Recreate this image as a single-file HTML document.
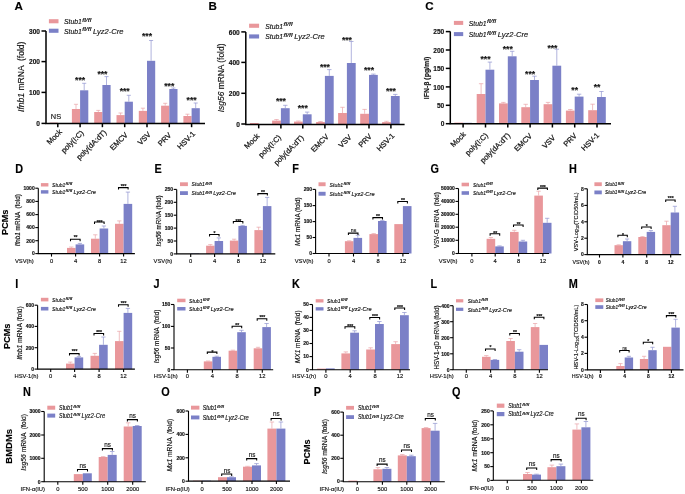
<!DOCTYPE html>
<html><head><meta charset="utf-8"><style>
html,body{margin:0;padding:0;background:#fff;}
svg{display:block;filter:blur(0.3px);}
text{font-family:"Liberation Sans", sans-serif;stroke:#111;stroke-width:0.15px;}
.rl{stroke:#222;stroke-width:0.25px;}
</style></head><body>
<svg width="685" height="494" viewBox="0 0 685 494">
<rect width="685" height="494" fill="#fff"/>
<rect x="49.60" y="122.60" width="8.20" height="0.80" fill="#E9979B"/>
<rect x="71.90" y="109.00" width="8.20" height="14.40" fill="#E9979B"/>
<line x1="76.00" y1="104.30" x2="76.00" y2="109.00" stroke="#EAA3A7" stroke-width="0.7"/>
<line x1="73.95" y1="104.30" x2="78.05" y2="104.30" stroke="#EAA3A7" stroke-width="0.7"/>
<rect x="80.10" y="90.30" width="8.20" height="33.10" fill="#7B80C7"/>
<line x1="84.20" y1="83.30" x2="84.20" y2="90.30" stroke="#8F93D0" stroke-width="0.7"/>
<line x1="82.15" y1="83.30" x2="86.25" y2="83.30" stroke="#8F93D0" stroke-width="0.7"/>
<rect x="94.20" y="112.00" width="8.20" height="11.40" fill="#E9979B"/>
<line x1="98.30" y1="110.40" x2="98.30" y2="112.00" stroke="#EAA3A7" stroke-width="0.7"/>
<line x1="96.25" y1="110.40" x2="100.35" y2="110.40" stroke="#EAA3A7" stroke-width="0.7"/>
<rect x="102.40" y="85.00" width="8.20" height="38.40" fill="#7B80C7"/>
<line x1="106.50" y1="76.60" x2="106.50" y2="85.00" stroke="#8F93D0" stroke-width="0.7"/>
<line x1="104.45" y1="76.60" x2="108.55" y2="76.60" stroke="#8F93D0" stroke-width="0.7"/>
<rect x="116.50" y="115.10" width="8.20" height="8.30" fill="#E9979B"/>
<line x1="120.60" y1="113.00" x2="120.60" y2="115.10" stroke="#EAA3A7" stroke-width="0.7"/>
<line x1="118.55" y1="113.00" x2="122.65" y2="113.00" stroke="#EAA3A7" stroke-width="0.7"/>
<rect x="124.70" y="101.70" width="8.20" height="21.70" fill="#7B80C7"/>
<line x1="128.80" y1="95.30" x2="128.80" y2="101.70" stroke="#8F93D0" stroke-width="0.7"/>
<line x1="126.75" y1="95.30" x2="130.85" y2="95.30" stroke="#8F93D0" stroke-width="0.7"/>
<rect x="138.80" y="110.90" width="8.20" height="12.50" fill="#E9979B"/>
<line x1="142.90" y1="108.20" x2="142.90" y2="110.90" stroke="#EAA3A7" stroke-width="0.7"/>
<line x1="140.85" y1="108.20" x2="144.95" y2="108.20" stroke="#EAA3A7" stroke-width="0.7"/>
<rect x="147.00" y="60.80" width="8.20" height="62.60" fill="#7B80C7"/>
<line x1="151.10" y1="40.50" x2="151.10" y2="60.80" stroke="#8F93D0" stroke-width="0.7"/>
<line x1="149.05" y1="40.50" x2="153.15" y2="40.50" stroke="#8F93D0" stroke-width="0.7"/>
<rect x="161.10" y="105.70" width="8.20" height="17.70" fill="#E9979B"/>
<line x1="165.20" y1="103.30" x2="165.20" y2="105.70" stroke="#EAA3A7" stroke-width="0.7"/>
<line x1="163.15" y1="103.30" x2="167.25" y2="103.30" stroke="#EAA3A7" stroke-width="0.7"/>
<rect x="169.30" y="89.00" width="8.20" height="34.40" fill="#7B80C7"/>
<line x1="173.40" y1="88.00" x2="173.40" y2="89.00" stroke="#8F93D0" stroke-width="0.7"/>
<line x1="171.35" y1="88.00" x2="175.45" y2="88.00" stroke="#8F93D0" stroke-width="0.7"/>
<rect x="183.40" y="116.00" width="8.20" height="7.40" fill="#E9979B"/>
<line x1="187.50" y1="114.20" x2="187.50" y2="116.00" stroke="#EAA3A7" stroke-width="0.7"/>
<line x1="185.45" y1="114.20" x2="189.55" y2="114.20" stroke="#EAA3A7" stroke-width="0.7"/>
<rect x="191.60" y="108.20" width="8.20" height="15.20" fill="#7B80C7"/>
<line x1="195.70" y1="103.00" x2="195.70" y2="108.20" stroke="#8F93D0" stroke-width="0.7"/>
<line x1="193.65" y1="103.00" x2="197.75" y2="103.00" stroke="#8F93D0" stroke-width="0.7"/>
<path d="M46.00,31.00 V123.40 H205.00" fill="none" stroke="#000" stroke-width="1.5"/>
<line x1="41.50" y1="123.40" x2="46.00" y2="123.40" stroke="#000" stroke-width="1.5"/>
<text x="40.00" y="126.17" font-size="6.6" text-anchor="end" font-weight="bold" font-style="normal" fill="#111" >0</text>
<line x1="41.50" y1="92.40" x2="46.00" y2="92.40" stroke="#000" stroke-width="1.5"/>
<text x="40.00" y="95.17" font-size="6.6" text-anchor="end" font-weight="bold" font-style="normal" fill="#111" >100</text>
<line x1="41.50" y1="61.60" x2="46.00" y2="61.60" stroke="#000" stroke-width="1.5"/>
<text x="40.00" y="64.37" font-size="6.6" text-anchor="end" font-weight="bold" font-style="normal" fill="#111" >200</text>
<line x1="41.50" y1="31.00" x2="46.00" y2="31.00" stroke="#000" stroke-width="1.5"/>
<text x="40.00" y="33.77" font-size="6.6" text-anchor="end" font-weight="bold" font-style="normal" fill="#111" >300</text>
<line x1="57.80" y1="123.40" x2="57.80" y2="127.20" stroke="#000" stroke-width="1.5"/>
<line x1="80.10" y1="123.40" x2="80.10" y2="127.20" stroke="#000" stroke-width="1.5"/>
<line x1="102.40" y1="123.40" x2="102.40" y2="127.20" stroke="#000" stroke-width="1.5"/>
<line x1="124.70" y1="123.40" x2="124.70" y2="127.20" stroke="#000" stroke-width="1.5"/>
<line x1="147.00" y1="123.40" x2="147.00" y2="127.20" stroke="#000" stroke-width="1.5"/>
<line x1="169.30" y1="123.40" x2="169.30" y2="127.20" stroke="#000" stroke-width="1.5"/>
<line x1="191.60" y1="123.40" x2="191.60" y2="127.20" stroke="#000" stroke-width="1.5"/>
<text transform="translate(62.40,132.40) rotate(-45)" font-size="7.5" text-anchor="end" fill="#111" class="rl">Mock</text>
<text transform="translate(84.20,133.40) rotate(-45)" font-size="7.5" text-anchor="end" fill="#111" class="rl">poly(I:C)</text>
<text transform="translate(107.00,132.90) rotate(-45)" font-size="7.5" text-anchor="end" fill="#111" class="rl">poly(dA:dT)</text>
<text transform="translate(128.30,135.40) rotate(-45)" font-size="7.5" text-anchor="end" fill="#111" class="rl">EMCV</text>
<text transform="translate(151.30,134.90) rotate(-45)" font-size="7.5" text-anchor="end" fill="#111" class="rl">VSV</text>
<text transform="translate(171.90,135.60) rotate(-45)" font-size="7.5" text-anchor="end" fill="#111" class="rl">PRV</text>
<text transform="translate(195.70,134.40) rotate(-45)" font-size="7.5" text-anchor="end" fill="#111" class="rl">HSV-1</text>
<text x="56.00" y="119.12" font-size="7.4" text-anchor="middle" font-weight="normal" font-style="normal" fill="#111" >NS</text>
<text x="80.10" y="82.87" font-size="8.6" text-anchor="middle" font-weight="bold" font-style="normal" fill="#111" stroke="#000" stroke-width="0">***</text>
<text x="102.40" y="76.77" font-size="8.6" text-anchor="middle" font-weight="bold" font-style="normal" fill="#111" stroke="#000" stroke-width="0">***</text>
<text x="124.70" y="94.17" font-size="8.6" text-anchor="middle" font-weight="bold" font-style="normal" fill="#111" stroke="#000" stroke-width="0">***</text>
<text x="147.00" y="39.47" font-size="8.6" text-anchor="middle" font-weight="bold" font-style="normal" fill="#111" stroke="#000" stroke-width="0">***</text>
<text x="169.30" y="89.07" font-size="8.6" text-anchor="middle" font-weight="bold" font-style="normal" fill="#111" stroke="#000" stroke-width="0">***</text>
<text x="191.60" y="103.47" font-size="8.6" text-anchor="middle" font-weight="bold" font-style="normal" fill="#111" stroke="#000" stroke-width="0">***</text>
<rect x="48.90" y="19.20" width="9.60" height="4.10" fill="#E9979B"/>
<rect x="48.90" y="28.70" width="9.60" height="4.10" fill="#7B80C7"/>
<text x="64.00" y="24.06" font-size="7.80" font-style="italic" fill="#111" textLength="17.94" lengthAdjust="spacingAndGlyphs">Stub1</text>
<text x="82.25" y="21.72" font-size="5.15" font-style="italic" fill="#111" textLength="9.05" lengthAdjust="spacingAndGlyphs">fl/fl</text>
<text x="64.00" y="33.56" font-size="7.80" font-style="italic" fill="#111" textLength="17.94" lengthAdjust="spacingAndGlyphs">Stub1</text>
<text x="82.25" y="31.22" font-size="5.15" font-style="italic" fill="#111" textLength="9.05" lengthAdjust="spacingAndGlyphs">fl/fl</text>
<text x="93.02" y="33.56" font-size="7.80" font-style="italic" fill="#111" textLength="30.42" lengthAdjust="spacingAndGlyphs">Lyz2-Cre</text>
<text transform="translate(23.83,76.80) rotate(-90)" font-size="8.4" text-anchor="middle" font-weight="normal" fill="#111" xml:space="preserve" textLength="70.40" lengthAdjust="spacingAndGlyphs"><tspan font-style="italic">Ifnb1</tspan><tspan font-style="normal"> mRNA  (fold)</tspan></text>
<text transform="translate(14.60,10.00) scale(1.0,1)" font-size="11.6" font-weight="bold" fill="#000">A</text>
<rect x="249.90" y="123.00" width="8.80" height="1.40" fill="#E9979B"/>
<rect x="272.10" y="120.60" width="8.80" height="3.80" fill="#E9979B"/>
<line x1="276.50" y1="119.50" x2="276.50" y2="120.60" stroke="#EAA3A7" stroke-width="0.7"/>
<line x1="274.30" y1="119.50" x2="278.70" y2="119.50" stroke="#EAA3A7" stroke-width="0.7"/>
<rect x="280.90" y="108.20" width="8.80" height="16.20" fill="#7B80C7"/>
<line x1="285.30" y1="105.30" x2="285.30" y2="108.20" stroke="#8F93D0" stroke-width="0.7"/>
<line x1="283.10" y1="105.30" x2="287.50" y2="105.30" stroke="#8F93D0" stroke-width="0.7"/>
<rect x="294.00" y="121.60" width="8.80" height="2.80" fill="#E9979B"/>
<line x1="298.40" y1="121.00" x2="298.40" y2="121.60" stroke="#EAA3A7" stroke-width="0.7"/>
<line x1="296.20" y1="121.00" x2="300.60" y2="121.00" stroke="#EAA3A7" stroke-width="0.7"/>
<rect x="302.80" y="114.30" width="8.80" height="10.10" fill="#7B80C7"/>
<line x1="307.20" y1="112.10" x2="307.20" y2="114.30" stroke="#8F93D0" stroke-width="0.7"/>
<line x1="305.00" y1="112.10" x2="309.40" y2="112.10" stroke="#8F93D0" stroke-width="0.7"/>
<rect x="316.10" y="122.00" width="8.80" height="2.40" fill="#E9979B"/>
<line x1="320.50" y1="121.50" x2="320.50" y2="122.00" stroke="#EAA3A7" stroke-width="0.7"/>
<line x1="318.30" y1="121.50" x2="322.70" y2="121.50" stroke="#EAA3A7" stroke-width="0.7"/>
<rect x="324.90" y="75.90" width="8.80" height="48.50" fill="#7B80C7"/>
<line x1="329.30" y1="69.60" x2="329.30" y2="75.90" stroke="#8F93D0" stroke-width="0.7"/>
<line x1="327.10" y1="69.60" x2="331.50" y2="69.60" stroke="#8F93D0" stroke-width="0.7"/>
<rect x="338.10" y="113.00" width="8.80" height="11.40" fill="#E9979B"/>
<line x1="342.50" y1="107.30" x2="342.50" y2="113.00" stroke="#EAA3A7" stroke-width="0.7"/>
<line x1="340.30" y1="107.30" x2="344.70" y2="107.30" stroke="#EAA3A7" stroke-width="0.7"/>
<rect x="346.90" y="63.00" width="8.80" height="61.40" fill="#7B80C7"/>
<line x1="351.30" y1="41.50" x2="351.30" y2="63.00" stroke="#8F93D0" stroke-width="0.7"/>
<line x1="349.10" y1="41.50" x2="353.50" y2="41.50" stroke="#8F93D0" stroke-width="0.7"/>
<rect x="360.20" y="113.80" width="8.80" height="10.60" fill="#E9979B"/>
<line x1="364.60" y1="109.40" x2="364.60" y2="113.80" stroke="#EAA3A7" stroke-width="0.7"/>
<line x1="362.40" y1="109.40" x2="366.80" y2="109.40" stroke="#EAA3A7" stroke-width="0.7"/>
<rect x="369.00" y="74.90" width="8.80" height="49.50" fill="#7B80C7"/>
<line x1="373.40" y1="74.10" x2="373.40" y2="74.90" stroke="#8F93D0" stroke-width="0.7"/>
<line x1="371.20" y1="74.10" x2="375.60" y2="74.10" stroke="#8F93D0" stroke-width="0.7"/>
<rect x="382.10" y="122.10" width="8.80" height="2.30" fill="#E9979B"/>
<line x1="386.50" y1="121.30" x2="386.50" y2="122.10" stroke="#EAA3A7" stroke-width="0.7"/>
<line x1="384.30" y1="121.30" x2="388.70" y2="121.30" stroke="#EAA3A7" stroke-width="0.7"/>
<rect x="390.90" y="96.00" width="8.80" height="28.40" fill="#7B80C7"/>
<line x1="395.30" y1="94.40" x2="395.30" y2="96.00" stroke="#8F93D0" stroke-width="0.7"/>
<line x1="393.10" y1="94.40" x2="397.50" y2="94.40" stroke="#8F93D0" stroke-width="0.7"/>
<path d="M245.80,31.90 V124.40 H404.60" fill="none" stroke="#000" stroke-width="1.5"/>
<line x1="241.30" y1="124.00" x2="245.80" y2="124.00" stroke="#000" stroke-width="1.5"/>
<text x="239.80" y="126.77" font-size="6.6" text-anchor="end" font-weight="bold" font-style="normal" fill="#111" >0</text>
<line x1="241.30" y1="93.30" x2="245.80" y2="93.30" stroke="#000" stroke-width="1.5"/>
<text x="239.80" y="96.07" font-size="6.6" text-anchor="end" font-weight="bold" font-style="normal" fill="#111" >200</text>
<line x1="241.30" y1="62.40" x2="245.80" y2="62.40" stroke="#000" stroke-width="1.5"/>
<text x="239.80" y="65.17" font-size="6.6" text-anchor="end" font-weight="bold" font-style="normal" fill="#111" >400</text>
<line x1="241.30" y1="31.90" x2="245.80" y2="31.90" stroke="#000" stroke-width="1.5"/>
<text x="239.80" y="34.67" font-size="6.6" text-anchor="end" font-weight="bold" font-style="normal" fill="#111" >600</text>
<line x1="258.70" y1="124.40" x2="258.70" y2="128.40" stroke="#000" stroke-width="1.5"/>
<line x1="280.90" y1="124.40" x2="280.90" y2="128.40" stroke="#000" stroke-width="1.5"/>
<line x1="302.80" y1="124.40" x2="302.80" y2="128.40" stroke="#000" stroke-width="1.5"/>
<line x1="324.90" y1="124.40" x2="324.90" y2="128.40" stroke="#000" stroke-width="1.5"/>
<line x1="346.90" y1="124.40" x2="346.90" y2="128.40" stroke="#000" stroke-width="1.5"/>
<line x1="369.00" y1="124.40" x2="369.00" y2="128.40" stroke="#000" stroke-width="1.5"/>
<line x1="390.90" y1="124.40" x2="390.90" y2="128.40" stroke="#000" stroke-width="1.5"/>
<text transform="translate(260.00,136.70) rotate(-45)" font-size="7.5" text-anchor="end" fill="#111" class="rl">Mock</text>
<text transform="translate(281.60,137.90) rotate(-45)" font-size="7.5" text-anchor="end" fill="#111" class="rl">poly(I:C)</text>
<text transform="translate(304.30,138.30) rotate(-45)" font-size="7.5" text-anchor="end" fill="#111" class="rl">poly(dA:dT)</text>
<text transform="translate(329.20,137.20) rotate(-45)" font-size="7.5" text-anchor="end" fill="#111" class="rl">EMCV</text>
<text transform="translate(352.00,137.70) rotate(-45)" font-size="7.5" text-anchor="end" fill="#111" class="rl">VSV</text>
<text transform="translate(372.40,136.90) rotate(-45)" font-size="7.5" text-anchor="end" fill="#111" class="rl">PRV</text>
<text transform="translate(395.00,136.40) rotate(-45)" font-size="7.5" text-anchor="end" fill="#111" class="rl">HSV-1</text>
<text x="280.90" y="104.17" font-size="8.6" text-anchor="middle" font-weight="bold" font-style="normal" fill="#111" stroke="#000" stroke-width="0">***</text>
<text x="302.80" y="110.87" font-size="8.6" text-anchor="middle" font-weight="bold" font-style="normal" fill="#111" stroke="#000" stroke-width="0">***</text>
<text x="324.90" y="69.57" font-size="8.6" text-anchor="middle" font-weight="bold" font-style="normal" fill="#111" stroke="#000" stroke-width="0">***</text>
<text x="346.90" y="42.57" font-size="8.6" text-anchor="middle" font-weight="bold" font-style="normal" fill="#111" stroke="#000" stroke-width="0">***</text>
<text x="369.00" y="72.97" font-size="8.6" text-anchor="middle" font-weight="bold" font-style="normal" fill="#111" stroke="#000" stroke-width="0">***</text>
<text x="390.90" y="94.17" font-size="8.6" text-anchor="middle" font-weight="bold" font-style="normal" fill="#111" stroke="#000" stroke-width="0">***</text>
<rect x="249.10" y="23.70" width="10.00" height="4.10" fill="#E9979B"/>
<rect x="249.10" y="34.40" width="10.00" height="4.10" fill="#7B80C7"/>
<text x="265.20" y="28.56" font-size="7.80" font-style="italic" fill="#111" textLength="17.94" lengthAdjust="spacingAndGlyphs">Stub1</text>
<text x="283.45" y="26.22" font-size="5.15" font-style="italic" fill="#111" textLength="9.05" lengthAdjust="spacingAndGlyphs">fl/fl</text>
<text x="265.20" y="39.26" font-size="7.80" font-style="italic" fill="#111" textLength="17.94" lengthAdjust="spacingAndGlyphs">Stub1</text>
<text x="283.45" y="36.92" font-size="5.15" font-style="italic" fill="#111" textLength="9.05" lengthAdjust="spacingAndGlyphs">fl/fl</text>
<text x="294.22" y="39.26" font-size="7.80" font-style="italic" fill="#111" textLength="30.42" lengthAdjust="spacingAndGlyphs">Lyz2-Cre</text>
<text transform="translate(224.26,77.90) rotate(-90)" font-size="8.3" text-anchor="middle" font-weight="normal" fill="#111" xml:space="preserve" textLength="68.70" lengthAdjust="spacingAndGlyphs"><tspan font-style="italic">Isg56</tspan><tspan font-style="normal"> mRNA (fold)</tspan></text>
<text transform="translate(208.40,10.00) scale(1.0,1)" font-size="11.6" font-weight="bold" fill="#000">B</text>
<rect x="454.30" y="122.60" width="8.80" height="1.10" fill="#E9979B"/>
<rect x="463.10" y="122.80" width="8.80" height="0.90" fill="#7B80C7"/>
<rect x="476.70" y="94.00" width="8.80" height="29.70" fill="#E9979B"/>
<line x1="481.10" y1="83.70" x2="481.10" y2="94.00" stroke="#EAA3A7" stroke-width="0.7"/>
<line x1="478.90" y1="83.70" x2="483.30" y2="83.70" stroke="#EAA3A7" stroke-width="0.7"/>
<rect x="485.50" y="69.70" width="8.80" height="54.00" fill="#7B80C7"/>
<line x1="489.90" y1="62.10" x2="489.90" y2="69.70" stroke="#8F93D0" stroke-width="0.7"/>
<line x1="487.70" y1="62.10" x2="492.10" y2="62.10" stroke="#8F93D0" stroke-width="0.7"/>
<rect x="499.00" y="103.40" width="8.80" height="20.30" fill="#E9979B"/>
<line x1="503.40" y1="102.40" x2="503.40" y2="103.40" stroke="#EAA3A7" stroke-width="0.7"/>
<line x1="501.20" y1="102.40" x2="505.60" y2="102.40" stroke="#EAA3A7" stroke-width="0.7"/>
<rect x="507.80" y="56.30" width="8.80" height="67.40" fill="#7B80C7"/>
<line x1="512.20" y1="51.30" x2="512.20" y2="56.30" stroke="#8F93D0" stroke-width="0.7"/>
<line x1="510.00" y1="51.30" x2="514.40" y2="51.30" stroke="#8F93D0" stroke-width="0.7"/>
<rect x="521.30" y="107.20" width="8.80" height="16.50" fill="#E9979B"/>
<line x1="525.70" y1="104.30" x2="525.70" y2="107.20" stroke="#EAA3A7" stroke-width="0.7"/>
<line x1="523.50" y1="104.30" x2="527.90" y2="104.30" stroke="#EAA3A7" stroke-width="0.7"/>
<rect x="530.10" y="80.00" width="8.80" height="43.70" fill="#7B80C7"/>
<line x1="534.50" y1="76.20" x2="534.50" y2="80.00" stroke="#8F93D0" stroke-width="0.7"/>
<line x1="532.30" y1="76.20" x2="536.70" y2="76.20" stroke="#8F93D0" stroke-width="0.7"/>
<rect x="543.60" y="104.20" width="8.80" height="19.50" fill="#E9979B"/>
<line x1="548.00" y1="102.40" x2="548.00" y2="104.20" stroke="#EAA3A7" stroke-width="0.7"/>
<line x1="545.80" y1="102.40" x2="550.20" y2="102.40" stroke="#EAA3A7" stroke-width="0.7"/>
<rect x="552.40" y="65.70" width="8.80" height="58.00" fill="#7B80C7"/>
<line x1="556.80" y1="49.20" x2="556.80" y2="65.70" stroke="#8F93D0" stroke-width="0.7"/>
<line x1="554.60" y1="49.20" x2="559.00" y2="49.20" stroke="#8F93D0" stroke-width="0.7"/>
<rect x="565.90" y="110.60" width="8.80" height="13.10" fill="#E9979B"/>
<line x1="570.30" y1="109.50" x2="570.30" y2="110.60" stroke="#EAA3A7" stroke-width="0.7"/>
<line x1="568.10" y1="109.50" x2="572.50" y2="109.50" stroke="#EAA3A7" stroke-width="0.7"/>
<rect x="574.70" y="96.60" width="8.80" height="27.10" fill="#7B80C7"/>
<line x1="579.10" y1="94.20" x2="579.10" y2="96.60" stroke="#8F93D0" stroke-width="0.7"/>
<line x1="576.90" y1="94.20" x2="581.30" y2="94.20" stroke="#8F93D0" stroke-width="0.7"/>
<rect x="588.20" y="110.20" width="8.80" height="13.50" fill="#E9979B"/>
<line x1="592.60" y1="104.20" x2="592.60" y2="110.20" stroke="#EAA3A7" stroke-width="0.7"/>
<line x1="590.40" y1="104.20" x2="594.80" y2="104.20" stroke="#EAA3A7" stroke-width="0.7"/>
<rect x="597.00" y="97.00" width="8.80" height="26.70" fill="#7B80C7"/>
<line x1="601.40" y1="91.50" x2="601.40" y2="97.00" stroke="#8F93D0" stroke-width="0.7"/>
<line x1="599.20" y1="91.50" x2="603.60" y2="91.50" stroke="#8F93D0" stroke-width="0.7"/>
<path d="M450.30,31.60 V123.70 H611.00" fill="none" stroke="#000" stroke-width="1.5"/>
<line x1="445.80" y1="123.70" x2="450.30" y2="123.70" stroke="#000" stroke-width="1.5"/>
<text x="444.30" y="126.47" font-size="6.6" text-anchor="end" font-weight="bold" font-style="normal" fill="#111" >0</text>
<line x1="445.80" y1="105.30" x2="450.30" y2="105.30" stroke="#000" stroke-width="1.5"/>
<text x="444.30" y="108.07" font-size="6.6" text-anchor="end" font-weight="bold" font-style="normal" fill="#111" >50</text>
<line x1="445.80" y1="86.90" x2="450.30" y2="86.90" stroke="#000" stroke-width="1.5"/>
<text x="444.30" y="89.67" font-size="6.6" text-anchor="end" font-weight="bold" font-style="normal" fill="#111" >100</text>
<line x1="445.80" y1="68.40" x2="450.30" y2="68.40" stroke="#000" stroke-width="1.5"/>
<text x="444.30" y="71.17" font-size="6.6" text-anchor="end" font-weight="bold" font-style="normal" fill="#111" >150</text>
<line x1="445.80" y1="50.00" x2="450.30" y2="50.00" stroke="#000" stroke-width="1.5"/>
<text x="444.30" y="52.77" font-size="6.6" text-anchor="end" font-weight="bold" font-style="normal" fill="#111" >200</text>
<line x1="445.80" y1="31.60" x2="450.30" y2="31.60" stroke="#000" stroke-width="1.5"/>
<text x="444.30" y="34.37" font-size="6.6" text-anchor="end" font-weight="bold" font-style="normal" fill="#111" >250</text>
<line x1="463.10" y1="123.70" x2="463.10" y2="127.50" stroke="#000" stroke-width="1.5"/>
<line x1="485.50" y1="123.70" x2="485.50" y2="127.50" stroke="#000" stroke-width="1.5"/>
<line x1="507.80" y1="123.70" x2="507.80" y2="127.50" stroke="#000" stroke-width="1.5"/>
<line x1="530.10" y1="123.70" x2="530.10" y2="127.50" stroke="#000" stroke-width="1.5"/>
<line x1="552.40" y1="123.70" x2="552.40" y2="127.50" stroke="#000" stroke-width="1.5"/>
<line x1="574.70" y1="123.70" x2="574.70" y2="127.50" stroke="#000" stroke-width="1.5"/>
<line x1="597.00" y1="123.70" x2="597.00" y2="127.50" stroke="#000" stroke-width="1.5"/>
<text transform="translate(466.20,134.90) rotate(-45)" font-size="7.5" text-anchor="end" fill="#111" class="rl">Mock</text>
<text transform="translate(488.40,135.90) rotate(-45)" font-size="7.5" text-anchor="end" fill="#111" class="rl">poly(I:C)</text>
<text transform="translate(510.70,136.10) rotate(-45)" font-size="7.5" text-anchor="end" fill="#111" class="rl">poly(dA:dT)</text>
<text transform="translate(532.50,136.40) rotate(-45)" font-size="7.5" text-anchor="end" fill="#111" class="rl">EMCV</text>
<text transform="translate(555.80,138.30) rotate(-45)" font-size="7.5" text-anchor="end" fill="#111" class="rl">VSV</text>
<text transform="translate(577.40,136.30) rotate(-45)" font-size="7.5" text-anchor="end" fill="#111" class="rl">PRV</text>
<text transform="translate(599.70,135.90) rotate(-45)" font-size="7.5" text-anchor="end" fill="#111" class="rl">HSV-1</text>
<text x="485.50" y="61.87" font-size="8.6" text-anchor="middle" font-weight="bold" font-style="normal" fill="#111" stroke="#000" stroke-width="0">***</text>
<text x="507.80" y="51.87" font-size="8.6" text-anchor="middle" font-weight="bold" font-style="normal" fill="#111" stroke="#000" stroke-width="0">***</text>
<text x="530.10" y="76.77" font-size="8.6" text-anchor="middle" font-weight="bold" font-style="normal" fill="#111" stroke="#000" stroke-width="0">***</text>
<text x="552.40" y="50.77" font-size="8.6" text-anchor="middle" font-weight="bold" font-style="normal" fill="#111" stroke="#000" stroke-width="0">***</text>
<text x="574.70" y="93.47" font-size="8.6" text-anchor="middle" font-weight="bold" font-style="normal" fill="#111" stroke="#000" stroke-width="0">**</text>
<text x="597.00" y="90.47" font-size="8.6" text-anchor="middle" font-weight="bold" font-style="normal" fill="#111" stroke="#000" stroke-width="0">**</text>
<rect x="453.90" y="20.90" width="9.30" height="4.00" fill="#E9979B"/>
<rect x="453.90" y="32.10" width="9.30" height="4.00" fill="#7B80C7"/>
<text x="468.70" y="25.71" font-size="7.80" font-style="italic" fill="#111" textLength="17.94" lengthAdjust="spacingAndGlyphs">Stub1</text>
<text x="486.95" y="23.37" font-size="5.15" font-style="italic" fill="#111" textLength="9.05" lengthAdjust="spacingAndGlyphs">fl/fl</text>
<text x="468.70" y="36.91" font-size="7.80" font-style="italic" fill="#111" textLength="17.94" lengthAdjust="spacingAndGlyphs">Stub1</text>
<text x="486.95" y="34.57" font-size="5.15" font-style="italic" fill="#111" textLength="9.05" lengthAdjust="spacingAndGlyphs">fl/fl</text>
<text x="497.72" y="36.91" font-size="7.80" font-style="italic" fill="#111" textLength="30.42" lengthAdjust="spacingAndGlyphs">Lyz2-Cre</text>
<text transform="translate(428.62,77.90) rotate(-90)" font-size="7.0" text-anchor="middle" font-weight="bold" fill="#111" xml:space="preserve" textLength="42.60" lengthAdjust="spacingAndGlyphs"><tspan font-style="normal">IFN-β (pg/ml)</tspan></text>
<text transform="translate(425.20,10.00) scale(1.0,1)" font-size="11.6" font-weight="bold" fill="#000">C</text>
<rect x="51.50" y="253.10" width="8.60" height="0.50" fill="#7B80C7"/>
<rect x="67.00" y="247.90" width="8.60" height="5.70" fill="#E9979B"/>
<line x1="71.30" y1="247.00" x2="71.30" y2="247.90" stroke="#EAA3A7" stroke-width="0.7"/>
<line x1="69.15" y1="247.00" x2="73.45" y2="247.00" stroke="#EAA3A7" stroke-width="0.7"/>
<rect x="75.60" y="244.40" width="8.60" height="9.20" fill="#7B80C7"/>
<line x1="79.90" y1="243.40" x2="79.90" y2="244.40" stroke="#8F93D0" stroke-width="0.7"/>
<line x1="77.75" y1="243.40" x2="82.05" y2="243.40" stroke="#8F93D0" stroke-width="0.7"/>
<rect x="91.00" y="238.70" width="8.60" height="14.90" fill="#E9979B"/>
<line x1="95.30" y1="234.80" x2="95.30" y2="238.70" stroke="#EAA3A7" stroke-width="0.7"/>
<line x1="93.15" y1="234.80" x2="97.45" y2="234.80" stroke="#EAA3A7" stroke-width="0.7"/>
<rect x="99.60" y="228.50" width="8.60" height="25.10" fill="#7B80C7"/>
<line x1="103.90" y1="226.00" x2="103.90" y2="228.50" stroke="#8F93D0" stroke-width="0.7"/>
<line x1="101.75" y1="226.00" x2="106.05" y2="226.00" stroke="#8F93D0" stroke-width="0.7"/>
<rect x="115.00" y="223.80" width="8.60" height="29.80" fill="#E9979B"/>
<line x1="119.30" y1="220.90" x2="119.30" y2="223.80" stroke="#EAA3A7" stroke-width="0.7"/>
<line x1="117.15" y1="220.90" x2="121.45" y2="220.90" stroke="#EAA3A7" stroke-width="0.7"/>
<rect x="123.60" y="203.90" width="8.60" height="49.70" fill="#7B80C7"/>
<line x1="127.90" y1="192.10" x2="127.90" y2="203.90" stroke="#8F93D0" stroke-width="0.7"/>
<line x1="125.75" y1="192.10" x2="130.05" y2="192.10" stroke="#8F93D0" stroke-width="0.7"/>
<path d="M38.30,188.20 V253.60 H134.90" fill="none" stroke="#000" stroke-width="1.1"/>
<line x1="35.30" y1="253.60" x2="38.30" y2="253.60" stroke="#000" stroke-width="1.1"/>
<text x="34.70" y="255.40" font-size="5.0" text-anchor="end" font-weight="bold" font-style="normal" fill="#111" >0</text>
<line x1="35.30" y1="240.70" x2="38.30" y2="240.70" stroke="#000" stroke-width="1.1"/>
<text x="34.70" y="242.50" font-size="5.0" text-anchor="end" font-weight="bold" font-style="normal" fill="#111" >200</text>
<line x1="35.30" y1="227.60" x2="38.30" y2="227.60" stroke="#000" stroke-width="1.1"/>
<text x="34.70" y="229.40" font-size="5.0" text-anchor="end" font-weight="bold" font-style="normal" fill="#111" >400</text>
<line x1="35.30" y1="214.60" x2="38.30" y2="214.60" stroke="#000" stroke-width="1.1"/>
<text x="34.70" y="216.40" font-size="5.0" text-anchor="end" font-weight="bold" font-style="normal" fill="#111" >600</text>
<line x1="35.30" y1="201.40" x2="38.30" y2="201.40" stroke="#000" stroke-width="1.1"/>
<text x="34.70" y="203.20" font-size="5.0" text-anchor="end" font-weight="bold" font-style="normal" fill="#111" >800</text>
<line x1="35.30" y1="188.20" x2="38.30" y2="188.20" stroke="#000" stroke-width="1.1"/>
<text x="34.70" y="190.00" font-size="5.0" text-anchor="end" font-weight="bold" font-style="normal" fill="#111" >1000</text>
<line x1="51.50" y1="253.60" x2="51.50" y2="256.60" stroke="#000" stroke-width="1.1"/>
<line x1="75.60" y1="253.60" x2="75.60" y2="256.60" stroke="#000" stroke-width="1.1"/>
<line x1="99.60" y1="253.60" x2="99.60" y2="256.60" stroke="#000" stroke-width="1.1"/>
<line x1="123.60" y1="253.60" x2="123.60" y2="256.60" stroke="#000" stroke-width="1.1"/>
<text x="51.50" y="263.00" font-size="5.8" text-anchor="middle" font-weight="normal" font-style="normal" fill="#111" >0</text>
<text x="75.60" y="263.00" font-size="5.8" text-anchor="middle" font-weight="normal" font-style="normal" fill="#111" >4</text>
<text x="99.60" y="263.00" font-size="5.8" text-anchor="middle" font-weight="normal" font-style="normal" fill="#111" >8</text>
<text x="123.60" y="263.00" font-size="5.8" text-anchor="middle" font-weight="normal" font-style="normal" fill="#111" >12</text>
<text x="33.60" y="263.00" font-size="5.8" text-anchor="end" font-weight="normal" font-style="normal" fill="#111" >VSV(h)</text>
<path d="M70.50,241.20 V239.20 H80.10 V241.20" fill="none" stroke="#000" stroke-width="1.05"/>
<text x="75.60" y="239.20" font-size="5.0" text-anchor="middle" font-weight="bold" font-style="normal" fill="#111" stroke="#000" stroke-width="0.2">**</text>
<path d="M94.50,224.00 V222.00 H104.10 V224.00" fill="none" stroke="#000" stroke-width="1.05"/>
<text x="99.60" y="223.80" font-size="5.0" text-anchor="middle" font-weight="bold" font-style="normal" fill="#111" stroke="#000" stroke-width="0.2">***</text>
<path d="M118.50,189.60 V187.60 H128.10 V189.60" fill="none" stroke="#000" stroke-width="1.05"/>
<text x="123.60" y="188.10" font-size="5.0" text-anchor="middle" font-weight="bold" font-style="normal" fill="#111" stroke="#000" stroke-width="0.2">***</text>
<rect x="40.90" y="183.10" width="7.50" height="3.40" fill="#E9979B"/>
<rect x="40.90" y="190.20" width="7.50" height="3.40" fill="#7B80C7"/>
<text x="52.10" y="187.00" font-size="6.11" font-style="italic" fill="#111" textLength="13.25" lengthAdjust="spacingAndGlyphs">Stub1</text>
<text x="65.58" y="185.27" font-size="4.03" font-style="italic" fill="#111" textLength="6.68" lengthAdjust="spacingAndGlyphs">fl/fl</text>
<text x="52.10" y="194.10" font-size="6.11" font-style="italic" fill="#111" textLength="13.25" lengthAdjust="spacingAndGlyphs">Stub1</text>
<text x="65.58" y="192.37" font-size="4.03" font-style="italic" fill="#111" textLength="6.68" lengthAdjust="spacingAndGlyphs">fl/fl</text>
<text x="73.53" y="194.10" font-size="6.11" font-style="italic" fill="#111" textLength="22.46" lengthAdjust="spacingAndGlyphs">Lyz2-Cre</text>
<text transform="translate(20.04,220.20) rotate(-90)" font-size="6.3" text-anchor="middle" font-weight="normal" fill="#111" xml:space="preserve" textLength="52.10" lengthAdjust="spacingAndGlyphs"><tspan font-style="italic">Ifnb1</tspan><tspan font-style="normal"> mRNA  (fold)</tspan></text>
<text transform="translate(15.30,173.00) scale(0.87,1)" font-size="12.5" font-weight="bold" fill="#000">D</text>
<rect x="190.70" y="253.40" width="8.50" height="0.50" fill="#7B80C7"/>
<rect x="206.10" y="245.70" width="8.50" height="8.20" fill="#E9979B"/>
<line x1="210.35" y1="244.60" x2="210.35" y2="245.70" stroke="#EAA3A7" stroke-width="0.7"/>
<line x1="208.22" y1="244.60" x2="212.47" y2="244.60" stroke="#EAA3A7" stroke-width="0.7"/>
<rect x="214.60" y="241.00" width="8.50" height="12.90" fill="#7B80C7"/>
<line x1="218.85" y1="237.90" x2="218.85" y2="241.00" stroke="#8F93D0" stroke-width="0.7"/>
<line x1="216.72" y1="237.90" x2="220.97" y2="237.90" stroke="#8F93D0" stroke-width="0.7"/>
<rect x="229.90" y="240.60" width="8.50" height="13.30" fill="#E9979B"/>
<line x1="234.15" y1="239.20" x2="234.15" y2="240.60" stroke="#EAA3A7" stroke-width="0.7"/>
<line x1="232.03" y1="239.20" x2="236.28" y2="239.20" stroke="#EAA3A7" stroke-width="0.7"/>
<rect x="238.40" y="225.90" width="8.50" height="28.00" fill="#7B80C7"/>
<line x1="242.65" y1="225.40" x2="242.65" y2="225.90" stroke="#8F93D0" stroke-width="0.7"/>
<line x1="240.53" y1="225.40" x2="244.78" y2="225.40" stroke="#8F93D0" stroke-width="0.7"/>
<rect x="254.40" y="230.10" width="8.50" height="23.80" fill="#E9979B"/>
<line x1="258.65" y1="227.20" x2="258.65" y2="230.10" stroke="#EAA3A7" stroke-width="0.7"/>
<line x1="256.52" y1="227.20" x2="260.77" y2="227.20" stroke="#EAA3A7" stroke-width="0.7"/>
<rect x="262.90" y="206.10" width="8.50" height="47.80" fill="#7B80C7"/>
<line x1="267.15" y1="197.40" x2="267.15" y2="206.10" stroke="#8F93D0" stroke-width="0.7"/>
<line x1="265.02" y1="197.40" x2="269.27" y2="197.40" stroke="#8F93D0" stroke-width="0.7"/>
<path d="M176.70,189.40 V253.90 H275.30" fill="none" stroke="#000" stroke-width="1.1"/>
<line x1="173.70" y1="253.90" x2="176.70" y2="253.90" stroke="#000" stroke-width="1.1"/>
<text x="173.10" y="255.70" font-size="5.0" text-anchor="end" font-weight="bold" font-style="normal" fill="#111" >0</text>
<line x1="173.70" y1="241.00" x2="176.70" y2="241.00" stroke="#000" stroke-width="1.1"/>
<text x="173.10" y="242.80" font-size="5.0" text-anchor="end" font-weight="bold" font-style="normal" fill="#111" >50</text>
<line x1="173.70" y1="228.10" x2="176.70" y2="228.10" stroke="#000" stroke-width="1.1"/>
<text x="173.10" y="229.90" font-size="5.0" text-anchor="end" font-weight="bold" font-style="normal" fill="#111" >100</text>
<line x1="173.70" y1="215.20" x2="176.70" y2="215.20" stroke="#000" stroke-width="1.1"/>
<text x="173.10" y="217.00" font-size="5.0" text-anchor="end" font-weight="bold" font-style="normal" fill="#111" >150</text>
<line x1="173.70" y1="202.30" x2="176.70" y2="202.30" stroke="#000" stroke-width="1.1"/>
<text x="173.10" y="204.10" font-size="5.0" text-anchor="end" font-weight="bold" font-style="normal" fill="#111" >200</text>
<line x1="173.70" y1="189.40" x2="176.70" y2="189.40" stroke="#000" stroke-width="1.1"/>
<text x="173.10" y="191.20" font-size="5.0" text-anchor="end" font-weight="bold" font-style="normal" fill="#111" >250</text>
<line x1="190.70" y1="253.90" x2="190.70" y2="256.90" stroke="#000" stroke-width="1.1"/>
<line x1="214.60" y1="253.90" x2="214.60" y2="256.90" stroke="#000" stroke-width="1.1"/>
<line x1="238.40" y1="253.90" x2="238.40" y2="256.90" stroke="#000" stroke-width="1.1"/>
<line x1="262.90" y1="253.90" x2="262.90" y2="256.90" stroke="#000" stroke-width="1.1"/>
<text x="190.70" y="263.00" font-size="5.8" text-anchor="middle" font-weight="normal" font-style="normal" fill="#111" >0</text>
<text x="214.60" y="263.00" font-size="5.8" text-anchor="middle" font-weight="normal" font-style="normal" fill="#111" >4</text>
<text x="238.40" y="263.00" font-size="5.8" text-anchor="middle" font-weight="normal" font-style="normal" fill="#111" >8</text>
<text x="262.90" y="263.00" font-size="5.8" text-anchor="middle" font-weight="normal" font-style="normal" fill="#111" >12</text>
<text x="172.30" y="263.00" font-size="5.8" text-anchor="end" font-weight="normal" font-style="normal" fill="#111" >VSV(h)</text>
<path d="M209.55,236.40 V234.40 H219.05 V236.40" fill="none" stroke="#000" stroke-width="1.05"/>
<text x="214.60" y="235.00" font-size="5.0" text-anchor="middle" font-weight="bold" font-style="normal" fill="#111" stroke="#000" stroke-width="0.2">*</text>
<path d="M233.35,223.40 V221.40 H242.85 V223.40" fill="none" stroke="#000" stroke-width="1.05"/>
<text x="238.40" y="222.50" font-size="5.0" text-anchor="middle" font-weight="bold" font-style="normal" fill="#111" stroke="#000" stroke-width="0.2">***</text>
<path d="M257.85,195.60 V193.60 H267.35 V195.60" fill="none" stroke="#000" stroke-width="1.05"/>
<text x="262.90" y="194.00" font-size="5.0" text-anchor="middle" font-weight="bold" font-style="normal" fill="#111" stroke="#000" stroke-width="0.2">**</text>
<rect x="180.00" y="182.30" width="7.90" height="3.80" fill="#E9979B"/>
<rect x="180.00" y="191.20" width="7.90" height="3.80" fill="#7B80C7"/>
<text x="191.60" y="186.41" font-size="6.15" font-style="italic" fill="#111" textLength="13.34" lengthAdjust="spacingAndGlyphs">Stub1</text>
<text x="205.17" y="184.67" font-size="4.06" font-style="italic" fill="#111" textLength="6.73" lengthAdjust="spacingAndGlyphs">fl/fl</text>
<text x="191.60" y="195.31" font-size="6.15" font-style="italic" fill="#111" textLength="13.34" lengthAdjust="spacingAndGlyphs">Stub1</text>
<text x="205.17" y="193.57" font-size="4.06" font-style="italic" fill="#111" textLength="6.73" lengthAdjust="spacingAndGlyphs">fl/fl</text>
<text x="213.18" y="195.31" font-size="6.15" font-style="italic" fill="#111" textLength="22.62" lengthAdjust="spacingAndGlyphs">Lyz2-Cre</text>
<text transform="translate(161.14,220.90) rotate(-90)" font-size="6.3" text-anchor="middle" font-weight="normal" fill="#111" xml:space="preserve" textLength="51.10" lengthAdjust="spacingAndGlyphs"><tspan font-style="italic">Isg56</tspan><tspan font-style="normal"> mRNA (fold)</tspan></text>
<text transform="translate(154.50,173.00) scale(0.87,1)" font-size="12.5" font-weight="bold" fill="#000">E</text>
<rect x="329.00" y="253.00" width="8.60" height="0.50" fill="#7B80C7"/>
<rect x="344.90" y="241.20" width="8.60" height="12.30" fill="#E9979B"/>
<line x1="349.20" y1="240.80" x2="349.20" y2="241.20" stroke="#EAA3A7" stroke-width="0.7"/>
<line x1="347.05" y1="240.80" x2="351.35" y2="240.80" stroke="#EAA3A7" stroke-width="0.7"/>
<rect x="353.50" y="237.90" width="8.60" height="15.60" fill="#7B80C7"/>
<line x1="357.80" y1="235.20" x2="357.80" y2="237.90" stroke="#8F93D0" stroke-width="0.7"/>
<line x1="355.65" y1="235.20" x2="359.95" y2="235.20" stroke="#8F93D0" stroke-width="0.7"/>
<rect x="369.40" y="234.10" width="8.60" height="19.40" fill="#E9979B"/>
<line x1="373.70" y1="233.60" x2="373.70" y2="234.10" stroke="#EAA3A7" stroke-width="0.7"/>
<line x1="371.55" y1="233.60" x2="375.85" y2="233.60" stroke="#EAA3A7" stroke-width="0.7"/>
<rect x="378.00" y="221.00" width="8.60" height="32.50" fill="#7B80C7"/>
<line x1="382.30" y1="220.40" x2="382.30" y2="221.00" stroke="#8F93D0" stroke-width="0.7"/>
<line x1="380.15" y1="220.40" x2="384.45" y2="220.40" stroke="#8F93D0" stroke-width="0.7"/>
<rect x="394.30" y="224.10" width="8.60" height="29.40" fill="#E9979B"/>
<rect x="402.90" y="206.10" width="8.60" height="47.40" fill="#7B80C7"/>
<path d="M315.60,189.40 V253.50 H409.00" fill="none" stroke="#000" stroke-width="1.1"/>
<line x1="312.60" y1="253.50" x2="315.60" y2="253.50" stroke="#000" stroke-width="1.1"/>
<text x="312.00" y="255.30" font-size="5.0" text-anchor="end" font-weight="bold" font-style="normal" fill="#111" >0</text>
<line x1="312.60" y1="237.50" x2="315.60" y2="237.50" stroke="#000" stroke-width="1.1"/>
<text x="312.00" y="239.30" font-size="5.0" text-anchor="end" font-weight="bold" font-style="normal" fill="#111" >50</text>
<line x1="312.60" y1="221.60" x2="315.60" y2="221.60" stroke="#000" stroke-width="1.1"/>
<text x="312.00" y="223.40" font-size="5.0" text-anchor="end" font-weight="bold" font-style="normal" fill="#111" >100</text>
<line x1="312.60" y1="205.60" x2="315.60" y2="205.60" stroke="#000" stroke-width="1.1"/>
<text x="312.00" y="207.40" font-size="5.0" text-anchor="end" font-weight="bold" font-style="normal" fill="#111" >150</text>
<line x1="312.60" y1="189.40" x2="315.60" y2="189.40" stroke="#000" stroke-width="1.1"/>
<text x="312.00" y="191.20" font-size="5.0" text-anchor="end" font-weight="bold" font-style="normal" fill="#111" >200</text>
<line x1="329.00" y1="253.50" x2="329.00" y2="256.50" stroke="#000" stroke-width="1.1"/>
<line x1="353.50" y1="253.50" x2="353.50" y2="256.50" stroke="#000" stroke-width="1.1"/>
<line x1="378.00" y1="253.50" x2="378.00" y2="256.50" stroke="#000" stroke-width="1.1"/>
<line x1="402.90" y1="253.50" x2="402.90" y2="256.50" stroke="#000" stroke-width="1.1"/>
<text x="329.00" y="263.00" font-size="5.8" text-anchor="middle" font-weight="normal" font-style="normal" fill="#111" >0</text>
<text x="353.50" y="263.00" font-size="5.8" text-anchor="middle" font-weight="normal" font-style="normal" fill="#111" >4</text>
<text x="378.00" y="263.00" font-size="5.8" text-anchor="middle" font-weight="normal" font-style="normal" fill="#111" >8</text>
<text x="402.90" y="263.00" font-size="5.8" text-anchor="middle" font-weight="normal" font-style="normal" fill="#111" >12</text>
<text x="313.40" y="263.00" font-size="5.8" text-anchor="end" font-weight="normal" font-style="normal" fill="#111" >VSV(h)</text>
<path d="M348.40,235.10 V233.10 H358.00 V235.10" fill="none" stroke="#000" stroke-width="1.05"/>
<text x="353.50" y="231.79" font-size="6.1" text-anchor="middle" font-weight="normal" font-style="normal" fill="#111" textLength="5.49" lengthAdjust="spacingAndGlyphs">ns</text>
<path d="M372.90,219.60 V217.60 H382.50 V219.60" fill="none" stroke="#000" stroke-width="1.05"/>
<text x="378.00" y="218.30" font-size="5.0" text-anchor="middle" font-weight="bold" font-style="normal" fill="#111" stroke="#000" stroke-width="0.2">**</text>
<path d="M397.80,203.50 V201.50 H407.40 V203.50" fill="none" stroke="#000" stroke-width="1.05"/>
<text x="402.90" y="201.80" font-size="5.0" text-anchor="middle" font-weight="bold" font-style="normal" fill="#111" stroke="#000" stroke-width="0.2">**</text>
<rect x="318.50" y="182.30" width="7.10" height="3.90" fill="#E9979B"/>
<rect x="318.50" y="191.80" width="7.10" height="3.90" fill="#7B80C7"/>
<text x="329.60" y="186.50" font-size="6.25" font-style="italic" fill="#111" textLength="13.57" lengthAdjust="spacingAndGlyphs">Stub1</text>
<text x="343.41" y="184.73" font-size="4.13" font-style="italic" fill="#111" textLength="6.84" lengthAdjust="spacingAndGlyphs">fl/fl</text>
<text x="329.60" y="196.00" font-size="6.25" font-style="italic" fill="#111" textLength="13.57" lengthAdjust="spacingAndGlyphs">Stub1</text>
<text x="343.41" y="194.23" font-size="4.13" font-style="italic" fill="#111" textLength="6.84" lengthAdjust="spacingAndGlyphs">fl/fl</text>
<text x="351.55" y="196.00" font-size="6.25" font-style="italic" fill="#111" textLength="23.01" lengthAdjust="spacingAndGlyphs">Lyz2-Cre</text>
<text transform="translate(299.84,221.70) rotate(-90)" font-size="6.3" text-anchor="middle" font-weight="normal" fill="#111" xml:space="preserve" textLength="48.60" lengthAdjust="spacingAndGlyphs"><tspan font-style="italic">Mx1</tspan><tspan font-style="normal"> mRNA (fold)</tspan></text>
<text transform="translate(292.30,173.00) scale(0.87,1)" font-size="12.5" font-weight="bold" fill="#000">F</text>
<rect x="486.60" y="238.80" width="8.60" height="14.70" fill="#E9979B"/>
<line x1="490.90" y1="237.50" x2="490.90" y2="238.80" stroke="#EAA3A7" stroke-width="0.7"/>
<line x1="488.75" y1="237.50" x2="493.05" y2="237.50" stroke="#EAA3A7" stroke-width="0.7"/>
<rect x="495.20" y="246.40" width="8.60" height="7.10" fill="#7B80C7"/>
<line x1="499.50" y1="245.90" x2="499.50" y2="246.40" stroke="#8F93D0" stroke-width="0.7"/>
<line x1="497.35" y1="245.90" x2="501.65" y2="245.90" stroke="#8F93D0" stroke-width="0.7"/>
<rect x="510.00" y="231.90" width="8.60" height="21.60" fill="#E9979B"/>
<line x1="514.30" y1="230.30" x2="514.30" y2="231.90" stroke="#EAA3A7" stroke-width="0.7"/>
<line x1="512.15" y1="230.30" x2="516.45" y2="230.30" stroke="#EAA3A7" stroke-width="0.7"/>
<rect x="518.60" y="241.50" width="8.60" height="12.00" fill="#7B80C7"/>
<line x1="522.90" y1="240.30" x2="522.90" y2="241.50" stroke="#8F93D0" stroke-width="0.7"/>
<line x1="520.75" y1="240.30" x2="525.05" y2="240.30" stroke="#8F93D0" stroke-width="0.7"/>
<rect x="534.30" y="195.60" width="8.60" height="57.90" fill="#E9979B"/>
<line x1="538.60" y1="191.20" x2="538.60" y2="195.60" stroke="#EAA3A7" stroke-width="0.7"/>
<line x1="536.45" y1="191.20" x2="540.75" y2="191.20" stroke="#EAA3A7" stroke-width="0.7"/>
<rect x="542.90" y="222.80" width="8.60" height="30.70" fill="#7B80C7"/>
<line x1="547.20" y1="218.30" x2="547.20" y2="222.80" stroke="#8F93D0" stroke-width="0.7"/>
<line x1="545.05" y1="218.30" x2="549.35" y2="218.30" stroke="#8F93D0" stroke-width="0.7"/>
<path d="M458.50,188.50 V253.50 H549.00" fill="none" stroke="#000" stroke-width="1.1"/>
<line x1="455.50" y1="253.50" x2="458.50" y2="253.50" stroke="#000" stroke-width="1.1"/>
<text x="454.90" y="255.30" font-size="5.0" text-anchor="end" font-weight="bold" font-style="normal" fill="#111" >0</text>
<line x1="455.50" y1="240.30" x2="458.50" y2="240.30" stroke="#000" stroke-width="1.1"/>
<text x="454.90" y="242.10" font-size="5.0" text-anchor="end" font-weight="bold" font-style="normal" fill="#111" >10000</text>
<line x1="455.50" y1="227.20" x2="458.50" y2="227.20" stroke="#000" stroke-width="1.1"/>
<text x="454.90" y="229.00" font-size="5.0" text-anchor="end" font-weight="bold" font-style="normal" fill="#111" >20000</text>
<line x1="455.50" y1="214.30" x2="458.50" y2="214.30" stroke="#000" stroke-width="1.1"/>
<text x="454.90" y="216.10" font-size="5.0" text-anchor="end" font-weight="bold" font-style="normal" fill="#111" >30000</text>
<line x1="455.50" y1="201.40" x2="458.50" y2="201.40" stroke="#000" stroke-width="1.1"/>
<text x="454.90" y="203.20" font-size="5.0" text-anchor="end" font-weight="bold" font-style="normal" fill="#111" >40000</text>
<line x1="455.50" y1="188.50" x2="458.50" y2="188.50" stroke="#000" stroke-width="1.1"/>
<text x="454.90" y="190.30" font-size="5.0" text-anchor="end" font-weight="bold" font-style="normal" fill="#111" >50000</text>
<line x1="471.90" y1="253.50" x2="471.90" y2="256.50" stroke="#000" stroke-width="1.1"/>
<line x1="495.20" y1="253.50" x2="495.20" y2="256.50" stroke="#000" stroke-width="1.1"/>
<line x1="518.60" y1="253.50" x2="518.60" y2="256.50" stroke="#000" stroke-width="1.1"/>
<line x1="542.90" y1="253.50" x2="542.90" y2="256.50" stroke="#000" stroke-width="1.1"/>
<text x="471.90" y="263.00" font-size="5.8" text-anchor="middle" font-weight="normal" font-style="normal" fill="#111" >0</text>
<text x="495.20" y="263.00" font-size="5.8" text-anchor="middle" font-weight="normal" font-style="normal" fill="#111" >4</text>
<text x="518.60" y="263.00" font-size="5.8" text-anchor="middle" font-weight="normal" font-style="normal" fill="#111" >8</text>
<text x="542.90" y="263.00" font-size="5.8" text-anchor="middle" font-weight="normal" font-style="normal" fill="#111" >12</text>
<text x="457.40" y="263.00" font-size="5.8" text-anchor="end" font-weight="normal" font-style="normal" fill="#111" >VSV(h)</text>
<path d="M490.10,235.70 V233.70 H499.70 V235.70" fill="none" stroke="#000" stroke-width="1.05"/>
<text x="495.20" y="234.50" font-size="5.0" text-anchor="middle" font-weight="bold" font-style="normal" fill="#111" stroke="#000" stroke-width="0.2">**</text>
<path d="M513.50,227.00 V225.00 H523.10 V227.00" fill="none" stroke="#000" stroke-width="1.05"/>
<text x="518.60" y="225.80" font-size="5.0" text-anchor="middle" font-weight="bold" font-style="normal" fill="#111" stroke="#000" stroke-width="0.2">**</text>
<path d="M537.80,190.10 V188.10 H547.40 V190.10" fill="none" stroke="#000" stroke-width="1.05"/>
<text x="542.90" y="188.70" font-size="5.0" text-anchor="middle" font-weight="bold" font-style="normal" fill="#111" stroke="#000" stroke-width="0.2">***</text>
<rect x="461.60" y="182.70" width="7.40" height="3.60" fill="#E9979B"/>
<rect x="461.60" y="191.20" width="7.40" height="3.60" fill="#7B80C7"/>
<text x="473.00" y="186.64" font-size="5.94" font-style="italic" fill="#111" textLength="12.88" lengthAdjust="spacingAndGlyphs">Stub1</text>
<text x="486.10" y="184.96" font-size="3.92" font-style="italic" fill="#111" textLength="6.50" lengthAdjust="spacingAndGlyphs">fl/fl</text>
<text x="473.00" y="195.14" font-size="5.94" font-style="italic" fill="#111" textLength="12.88" lengthAdjust="spacingAndGlyphs">Stub1</text>
<text x="486.10" y="193.46" font-size="3.92" font-style="italic" fill="#111" textLength="6.50" lengthAdjust="spacingAndGlyphs">fl/fl</text>
<text x="493.83" y="195.14" font-size="5.94" font-style="italic" fill="#111" textLength="21.84" lengthAdjust="spacingAndGlyphs">Lyz2-Cre</text>
<text transform="translate(439.34,220.20) rotate(-90)" font-size="6.3" text-anchor="middle" font-weight="normal" fill="#111" xml:space="preserve" textLength="56.00" lengthAdjust="spacingAndGlyphs"><tspan font-style="normal">VSV-G mRNA  (fold)</tspan></text>
<text transform="translate(430.50,173.00) scale(0.87,1)" font-size="12.5" font-weight="bold" fill="#000">G</text>
<rect x="614.50" y="245.20" width="8.40" height="9.40" fill="#E9979B"/>
<line x1="618.70" y1="244.80" x2="618.70" y2="245.20" stroke="#EAA3A7" stroke-width="0.7"/>
<line x1="616.60" y1="244.80" x2="620.80" y2="244.80" stroke="#EAA3A7" stroke-width="0.7"/>
<rect x="622.90" y="241.20" width="8.40" height="13.40" fill="#7B80C7"/>
<line x1="627.10" y1="239.00" x2="627.10" y2="241.20" stroke="#8F93D0" stroke-width="0.7"/>
<line x1="625.00" y1="239.00" x2="629.20" y2="239.00" stroke="#8F93D0" stroke-width="0.7"/>
<rect x="638.30" y="237.00" width="8.40" height="17.60" fill="#E9979B"/>
<line x1="642.50" y1="236.60" x2="642.50" y2="237.00" stroke="#EAA3A7" stroke-width="0.7"/>
<line x1="640.40" y1="236.60" x2="644.60" y2="236.60" stroke="#EAA3A7" stroke-width="0.7"/>
<rect x="646.70" y="231.90" width="8.40" height="22.70" fill="#7B80C7"/>
<line x1="650.90" y1="230.60" x2="650.90" y2="231.90" stroke="#8F93D0" stroke-width="0.7"/>
<line x1="648.80" y1="230.60" x2="653.00" y2="230.60" stroke="#8F93D0" stroke-width="0.7"/>
<rect x="662.30" y="225.20" width="8.40" height="29.40" fill="#E9979B"/>
<line x1="666.50" y1="221.20" x2="666.50" y2="225.20" stroke="#EAA3A7" stroke-width="0.7"/>
<line x1="664.40" y1="221.20" x2="668.60" y2="221.20" stroke="#EAA3A7" stroke-width="0.7"/>
<rect x="670.70" y="212.50" width="8.40" height="42.10" fill="#7B80C7"/>
<line x1="674.90" y1="206.30" x2="674.90" y2="212.50" stroke="#8F93D0" stroke-width="0.7"/>
<line x1="672.80" y1="206.30" x2="677.00" y2="206.30" stroke="#8F93D0" stroke-width="0.7"/>
<path d="M587.30,188.80 V254.60 H681.20" fill="none" stroke="#000" stroke-width="1.1"/>
<line x1="584.30" y1="254.60" x2="587.30" y2="254.60" stroke="#000" stroke-width="1.1"/>
<text x="583.70" y="256.40" font-size="5.0" text-anchor="end" font-weight="bold" font-style="normal" fill="#111" >0</text>
<line x1="584.30" y1="238.20" x2="587.30" y2="238.20" stroke="#000" stroke-width="1.1"/>
<text x="583.70" y="240.00" font-size="5.0" text-anchor="end" font-weight="bold" font-style="normal" fill="#111" >2</text>
<line x1="584.30" y1="221.80" x2="587.30" y2="221.80" stroke="#000" stroke-width="1.1"/>
<text x="583.70" y="223.60" font-size="5.0" text-anchor="end" font-weight="bold" font-style="normal" fill="#111" >4</text>
<line x1="584.30" y1="205.40" x2="587.30" y2="205.40" stroke="#000" stroke-width="1.1"/>
<text x="583.70" y="207.20" font-size="5.0" text-anchor="end" font-weight="bold" font-style="normal" fill="#111" >6</text>
<line x1="584.30" y1="188.80" x2="587.30" y2="188.80" stroke="#000" stroke-width="1.1"/>
<text x="583.70" y="190.60" font-size="5.0" text-anchor="end" font-weight="bold" font-style="normal" fill="#111" >8</text>
<line x1="599.50" y1="254.60" x2="599.50" y2="257.60" stroke="#000" stroke-width="1.1"/>
<line x1="622.90" y1="254.60" x2="622.90" y2="257.60" stroke="#000" stroke-width="1.1"/>
<line x1="646.70" y1="254.60" x2="646.70" y2="257.60" stroke="#000" stroke-width="1.1"/>
<line x1="670.70" y1="254.60" x2="670.70" y2="257.60" stroke="#000" stroke-width="1.1"/>
<text x="599.50" y="263.50" font-size="5.0" text-anchor="middle" font-weight="bold" font-style="normal" fill="#111" >0</text>
<text x="622.90" y="263.50" font-size="5.0" text-anchor="middle" font-weight="bold" font-style="normal" fill="#111" >4</text>
<text x="646.70" y="263.50" font-size="5.0" text-anchor="middle" font-weight="bold" font-style="normal" fill="#111" >8</text>
<text x="670.70" y="263.50" font-size="5.0" text-anchor="middle" font-weight="bold" font-style="normal" fill="#111" >12</text>
<text x="589.50" y="263.50" font-size="5.3" text-anchor="end" font-weight="normal" font-style="normal" fill="#111" >VSV(h)</text>
<path d="M617.90,237.30 V235.30 H627.30 V237.30" fill="none" stroke="#000" stroke-width="1.05"/>
<text x="622.90" y="236.50" font-size="5.0" text-anchor="middle" font-weight="bold" font-style="normal" fill="#111" stroke="#000" stroke-width="0.2">*</text>
<path d="M641.70,228.90 V226.90 H651.10 V228.90" fill="none" stroke="#000" stroke-width="1.05"/>
<text x="646.70" y="228.00" font-size="5.0" text-anchor="middle" font-weight="bold" font-style="normal" fill="#111" stroke="#000" stroke-width="0.2">*</text>
<path d="M665.70,202.00 V200.00 H675.10 V202.00" fill="none" stroke="#000" stroke-width="1.05"/>
<text x="670.70" y="200.10" font-size="5.0" text-anchor="middle" font-weight="bold" font-style="normal" fill="#111" stroke="#000" stroke-width="0.2">***</text>
<rect x="594.40" y="182.30" width="7.40" height="3.80" fill="#E9979B"/>
<rect x="594.40" y="190.50" width="7.40" height="3.80" fill="#7B80C7"/>
<text x="605.10" y="186.26" font-size="5.72" font-style="italic" fill="#111" textLength="12.42" lengthAdjust="spacingAndGlyphs">Stub1</text>
<text x="617.74" y="184.64" font-size="3.78" font-style="italic" fill="#111" textLength="6.26" lengthAdjust="spacingAndGlyphs">fl/fl</text>
<text x="605.10" y="194.46" font-size="5.72" font-style="italic" fill="#111" textLength="12.42" lengthAdjust="spacingAndGlyphs">Stub1</text>
<text x="617.74" y="192.84" font-size="3.78" font-style="italic" fill="#111" textLength="6.26" lengthAdjust="spacingAndGlyphs">fl/fl</text>
<text x="625.19" y="194.46" font-size="5.72" font-style="italic" fill="#111" textLength="21.06" lengthAdjust="spacingAndGlyphs">Lyz2-Cre</text>
<text transform="translate(577.51,221.80) rotate(-90)" font-size="5.8" text-anchor="middle" font-weight="normal" fill="#111" xml:space="preserve" textLength="59.00" lengthAdjust="spacingAndGlyphs"><tspan font-style="normal">VSV-Log</tspan><tspan font-size="3.94" dy="1.45">10</tspan><tspan font-style="normal" dy="-1.45">(TCID50/mL)</tspan></text>
<text transform="translate(569.00,173.00) scale(0.87,1)" font-size="12.5" font-weight="bold" fill="#000">H</text>
<rect x="66.00" y="363.60" width="8.60" height="5.50" fill="#E9979B"/>
<line x1="70.30" y1="362.10" x2="70.30" y2="363.60" stroke="#EAA3A7" stroke-width="0.7"/>
<line x1="68.15" y1="362.10" x2="72.45" y2="362.10" stroke="#EAA3A7" stroke-width="0.7"/>
<rect x="74.60" y="357.40" width="8.60" height="11.70" fill="#7B80C7"/>
<line x1="78.90" y1="356.40" x2="78.90" y2="357.40" stroke="#8F93D0" stroke-width="0.7"/>
<line x1="76.75" y1="356.40" x2="81.05" y2="356.40" stroke="#8F93D0" stroke-width="0.7"/>
<rect x="90.50" y="355.80" width="8.60" height="13.30" fill="#E9979B"/>
<line x1="94.80" y1="353.40" x2="94.80" y2="355.80" stroke="#EAA3A7" stroke-width="0.7"/>
<line x1="92.65" y1="353.40" x2="96.95" y2="353.40" stroke="#EAA3A7" stroke-width="0.7"/>
<rect x="99.10" y="344.80" width="8.60" height="24.30" fill="#7B80C7"/>
<line x1="103.40" y1="337.00" x2="103.40" y2="344.80" stroke="#8F93D0" stroke-width="0.7"/>
<line x1="101.25" y1="337.00" x2="105.55" y2="337.00" stroke="#8F93D0" stroke-width="0.7"/>
<rect x="115.00" y="341.10" width="8.60" height="28.00" fill="#E9979B"/>
<line x1="119.30" y1="331.30" x2="119.30" y2="341.10" stroke="#EAA3A7" stroke-width="0.7"/>
<line x1="117.15" y1="331.30" x2="121.45" y2="331.30" stroke="#EAA3A7" stroke-width="0.7"/>
<rect x="123.60" y="312.90" width="8.60" height="56.20" fill="#7B80C7"/>
<line x1="127.90" y1="308.40" x2="127.90" y2="312.90" stroke="#8F93D0" stroke-width="0.7"/>
<line x1="125.75" y1="308.40" x2="130.05" y2="308.40" stroke="#8F93D0" stroke-width="0.7"/>
<path d="M37.60,305.20 V369.10 H134.90" fill="none" stroke="#000" stroke-width="1.1"/>
<line x1="34.60" y1="369.10" x2="37.60" y2="369.10" stroke="#000" stroke-width="1.1"/>
<text x="34.00" y="370.90" font-size="5.0" text-anchor="end" font-weight="bold" font-style="normal" fill="#111" >0</text>
<line x1="34.60" y1="347.70" x2="37.60" y2="347.70" stroke="#000" stroke-width="1.1"/>
<text x="34.00" y="349.50" font-size="5.0" text-anchor="end" font-weight="bold" font-style="normal" fill="#111" >200</text>
<line x1="34.60" y1="326.40" x2="37.60" y2="326.40" stroke="#000" stroke-width="1.1"/>
<text x="34.00" y="328.20" font-size="5.0" text-anchor="end" font-weight="bold" font-style="normal" fill="#111" >400</text>
<line x1="34.60" y1="305.20" x2="37.60" y2="305.20" stroke="#000" stroke-width="1.1"/>
<text x="34.00" y="307.00" font-size="5.0" text-anchor="end" font-weight="bold" font-style="normal" fill="#111" >600</text>
<line x1="50.70" y1="369.10" x2="50.70" y2="372.10" stroke="#000" stroke-width="1.1"/>
<line x1="74.60" y1="369.10" x2="74.60" y2="372.10" stroke="#000" stroke-width="1.1"/>
<line x1="99.10" y1="369.10" x2="99.10" y2="372.10" stroke="#000" stroke-width="1.1"/>
<line x1="123.60" y1="369.10" x2="123.60" y2="372.10" stroke="#000" stroke-width="1.1"/>
<text x="50.70" y="378.00" font-size="5.8" text-anchor="middle" font-weight="normal" font-style="normal" fill="#111" >0</text>
<text x="74.60" y="378.00" font-size="5.8" text-anchor="middle" font-weight="normal" font-style="normal" fill="#111" >4</text>
<text x="99.10" y="378.00" font-size="5.8" text-anchor="middle" font-weight="normal" font-style="normal" fill="#111" >8</text>
<text x="123.60" y="378.00" font-size="5.8" text-anchor="middle" font-weight="normal" font-style="normal" fill="#111" >12</text>
<text x="38.40" y="378.00" font-size="5.8" text-anchor="end" font-weight="normal" font-style="normal" fill="#111" >HSV-1(h)</text>
<path d="M69.50,355.60 V353.60 H79.10 V355.60" fill="none" stroke="#000" stroke-width="1.05"/>
<text x="74.60" y="353.30" font-size="5.0" text-anchor="middle" font-weight="bold" font-style="normal" fill="#111" stroke="#000" stroke-width="0.2">***</text>
<path d="M94.00,335.50 V333.50 H103.60 V335.50" fill="none" stroke="#000" stroke-width="1.05"/>
<text x="99.10" y="333.80" font-size="5.0" text-anchor="middle" font-weight="bold" font-style="normal" fill="#111" stroke="#000" stroke-width="0.2">***</text>
<path d="M118.50,306.70 V304.70 H128.10 V306.70" fill="none" stroke="#000" stroke-width="1.05"/>
<text x="123.60" y="304.80" font-size="5.0" text-anchor="middle" font-weight="bold" font-style="normal" fill="#111" stroke="#000" stroke-width="0.2">***</text>
<rect x="40.90" y="297.80" width="7.50" height="3.60" fill="#E9979B"/>
<rect x="40.90" y="306.90" width="7.50" height="3.60" fill="#7B80C7"/>
<text x="52.10" y="301.80" font-size="6.11" font-style="italic" fill="#111" textLength="13.25" lengthAdjust="spacingAndGlyphs">Stub1</text>
<text x="65.58" y="300.07" font-size="4.03" font-style="italic" fill="#111" textLength="6.68" lengthAdjust="spacingAndGlyphs">fl/fl</text>
<text x="52.10" y="310.90" font-size="6.11" font-style="italic" fill="#111" textLength="13.25" lengthAdjust="spacingAndGlyphs">Stub1</text>
<text x="65.58" y="309.17" font-size="4.03" font-style="italic" fill="#111" textLength="6.68" lengthAdjust="spacingAndGlyphs">fl/fl</text>
<text x="73.53" y="310.90" font-size="6.11" font-style="italic" fill="#111" textLength="22.46" lengthAdjust="spacingAndGlyphs">Lyz2-Cre</text>
<text transform="translate(22.19,333.00) rotate(-90)" font-size="6.5" text-anchor="middle" font-weight="normal" fill="#111" xml:space="preserve" textLength="53.60" lengthAdjust="spacingAndGlyphs"><tspan font-style="italic">Ifnb1</tspan><tspan font-style="normal"> mRNA (fold)</tspan></text>
<text transform="translate(15.30,287.60) scale(0.87,1)" font-size="12.5" font-weight="bold" fill="#000">I</text>
<rect x="203.80" y="361.40" width="8.60" height="8.30" fill="#E9979B"/>
<line x1="208.10" y1="361.00" x2="208.10" y2="361.40" stroke="#EAA3A7" stroke-width="0.7"/>
<line x1="205.95" y1="361.00" x2="210.25" y2="361.00" stroke="#EAA3A7" stroke-width="0.7"/>
<rect x="212.40" y="356.80" width="8.60" height="12.90" fill="#7B80C7"/>
<line x1="216.70" y1="356.20" x2="216.70" y2="356.80" stroke="#8F93D0" stroke-width="0.7"/>
<line x1="214.55" y1="356.20" x2="218.85" y2="356.20" stroke="#8F93D0" stroke-width="0.7"/>
<rect x="228.60" y="350.70" width="8.60" height="19.00" fill="#E9979B"/>
<line x1="232.90" y1="350.20" x2="232.90" y2="350.70" stroke="#EAA3A7" stroke-width="0.7"/>
<line x1="230.75" y1="350.20" x2="235.05" y2="350.20" stroke="#EAA3A7" stroke-width="0.7"/>
<rect x="237.20" y="332.20" width="8.60" height="37.50" fill="#7B80C7"/>
<line x1="241.50" y1="330.30" x2="241.50" y2="332.20" stroke="#8F93D0" stroke-width="0.7"/>
<line x1="239.35" y1="330.30" x2="243.65" y2="330.30" stroke="#8F93D0" stroke-width="0.7"/>
<rect x="253.70" y="348.30" width="8.60" height="21.40" fill="#E9979B"/>
<line x1="258.00" y1="347.30" x2="258.00" y2="348.30" stroke="#EAA3A7" stroke-width="0.7"/>
<line x1="255.85" y1="347.30" x2="260.15" y2="347.30" stroke="#EAA3A7" stroke-width="0.7"/>
<rect x="262.30" y="327.10" width="8.60" height="42.60" fill="#7B80C7"/>
<line x1="266.60" y1="323.50" x2="266.60" y2="327.10" stroke="#8F93D0" stroke-width="0.7"/>
<line x1="264.45" y1="323.50" x2="268.75" y2="323.50" stroke="#8F93D0" stroke-width="0.7"/>
<path d="M174.00,304.50 V369.70 H273.20" fill="none" stroke="#000" stroke-width="1.1"/>
<line x1="171.00" y1="369.70" x2="174.00" y2="369.70" stroke="#000" stroke-width="1.1"/>
<text x="170.40" y="371.50" font-size="5.0" text-anchor="end" font-weight="bold" font-style="normal" fill="#111" >0</text>
<line x1="171.00" y1="348.00" x2="174.00" y2="348.00" stroke="#000" stroke-width="1.1"/>
<text x="170.40" y="349.80" font-size="5.0" text-anchor="end" font-weight="bold" font-style="normal" fill="#111" >50</text>
<line x1="171.00" y1="326.40" x2="174.00" y2="326.40" stroke="#000" stroke-width="1.1"/>
<text x="170.40" y="328.20" font-size="5.0" text-anchor="end" font-weight="bold" font-style="normal" fill="#111" >100</text>
<line x1="171.00" y1="304.50" x2="174.00" y2="304.50" stroke="#000" stroke-width="1.1"/>
<text x="170.40" y="306.30" font-size="5.0" text-anchor="end" font-weight="bold" font-style="normal" fill="#111" >150</text>
<line x1="187.40" y1="369.70" x2="187.40" y2="372.70" stroke="#000" stroke-width="1.1"/>
<line x1="212.40" y1="369.70" x2="212.40" y2="372.70" stroke="#000" stroke-width="1.1"/>
<line x1="237.20" y1="369.70" x2="237.20" y2="372.70" stroke="#000" stroke-width="1.1"/>
<line x1="262.30" y1="369.70" x2="262.30" y2="372.70" stroke="#000" stroke-width="1.1"/>
<text x="187.40" y="378.00" font-size="5.8" text-anchor="middle" font-weight="normal" font-style="normal" fill="#111" >0</text>
<text x="212.40" y="378.00" font-size="5.8" text-anchor="middle" font-weight="normal" font-style="normal" fill="#111" >4</text>
<text x="237.20" y="378.00" font-size="5.8" text-anchor="middle" font-weight="normal" font-style="normal" fill="#111" >8</text>
<text x="262.30" y="378.00" font-size="5.8" text-anchor="middle" font-weight="normal" font-style="normal" fill="#111" >12</text>
<text x="177.70" y="378.00" font-size="5.8" text-anchor="end" font-weight="normal" font-style="normal" fill="#111" >HSV-1(h)</text>
<path d="M207.30,354.10 V352.10 H216.90 V354.10" fill="none" stroke="#000" stroke-width="1.05"/>
<text x="212.40" y="353.70" font-size="5.0" text-anchor="middle" font-weight="bold" font-style="normal" fill="#111" stroke="#000" stroke-width="0.2">*</text>
<path d="M232.10,328.30 V326.30 H241.70 V328.30" fill="none" stroke="#000" stroke-width="1.05"/>
<text x="237.20" y="327.10" font-size="5.0" text-anchor="middle" font-weight="bold" font-style="normal" fill="#111" stroke="#000" stroke-width="0.2">**</text>
<path d="M257.20,320.70 V318.70 H266.80 V320.70" fill="none" stroke="#000" stroke-width="1.05"/>
<text x="262.30" y="318.90" font-size="5.0" text-anchor="middle" font-weight="bold" font-style="normal" fill="#111" stroke="#000" stroke-width="0.2">***</text>
<rect x="177.20" y="298.70" width="8.30" height="3.50" fill="#E9979B"/>
<rect x="177.20" y="307.00" width="8.30" height="3.50" fill="#7B80C7"/>
<text x="189.10" y="302.68" font-size="6.19" font-style="italic" fill="#111" textLength="13.43" lengthAdjust="spacingAndGlyphs">Stub1</text>
<text x="202.77" y="300.93" font-size="4.09" font-style="italic" fill="#111" textLength="6.77" lengthAdjust="spacingAndGlyphs">fl/fl</text>
<text x="189.10" y="310.98" font-size="6.19" font-style="italic" fill="#111" textLength="13.43" lengthAdjust="spacingAndGlyphs">Stub1</text>
<text x="202.77" y="309.23" font-size="4.09" font-style="italic" fill="#111" textLength="6.77" lengthAdjust="spacingAndGlyphs">fl/fl</text>
<text x="210.82" y="310.98" font-size="6.19" font-style="italic" fill="#111" textLength="22.78" lengthAdjust="spacingAndGlyphs">Lyz2-Cre</text>
<text transform="translate(159.16,336.40) rotate(-90)" font-size="6.4" text-anchor="middle" font-weight="normal" fill="#111" xml:space="preserve" textLength="53.60" lengthAdjust="spacingAndGlyphs"><tspan font-style="italic">Isg56</tspan><tspan font-style="normal"> mRNA  (fold)</tspan></text>
<text transform="translate(153.40,287.60) scale(0.87,1)" font-size="12.5" font-weight="bold" fill="#000">J</text>
<rect x="317.10" y="368.60" width="8.80" height="1.10" fill="#E9979B"/>
<rect x="325.90" y="368.40" width="8.80" height="1.30" fill="#7B80C7"/>
<rect x="341.40" y="353.40" width="8.80" height="16.30" fill="#E9979B"/>
<line x1="345.80" y1="351.90" x2="345.80" y2="353.40" stroke="#EAA3A7" stroke-width="0.7"/>
<line x1="343.60" y1="351.90" x2="348.00" y2="351.90" stroke="#EAA3A7" stroke-width="0.7"/>
<rect x="350.20" y="332.70" width="8.80" height="37.00" fill="#7B80C7"/>
<line x1="354.60" y1="330.80" x2="354.60" y2="332.70" stroke="#8F93D0" stroke-width="0.7"/>
<line x1="352.40" y1="330.80" x2="356.80" y2="330.80" stroke="#8F93D0" stroke-width="0.7"/>
<rect x="366.20" y="349.50" width="8.80" height="20.20" fill="#E9979B"/>
<line x1="370.60" y1="347.80" x2="370.60" y2="349.50" stroke="#EAA3A7" stroke-width="0.7"/>
<line x1="368.40" y1="347.80" x2="372.80" y2="347.80" stroke="#EAA3A7" stroke-width="0.7"/>
<rect x="375.00" y="324.00" width="8.80" height="45.70" fill="#7B80C7"/>
<line x1="379.40" y1="321.50" x2="379.40" y2="324.00" stroke="#8F93D0" stroke-width="0.7"/>
<line x1="377.20" y1="321.50" x2="381.60" y2="321.50" stroke="#8F93D0" stroke-width="0.7"/>
<rect x="391.20" y="344.10" width="8.80" height="25.60" fill="#E9979B"/>
<line x1="395.60" y1="341.70" x2="395.60" y2="344.10" stroke="#EAA3A7" stroke-width="0.7"/>
<line x1="393.40" y1="341.70" x2="397.80" y2="341.70" stroke="#EAA3A7" stroke-width="0.7"/>
<rect x="400.00" y="315.20" width="8.80" height="54.50" fill="#7B80C7"/>
<line x1="404.40" y1="312.50" x2="404.40" y2="315.20" stroke="#8F93D0" stroke-width="0.7"/>
<line x1="402.20" y1="312.50" x2="406.60" y2="312.50" stroke="#8F93D0" stroke-width="0.7"/>
<path d="M312.50,304.50 V369.70 H410.00" fill="none" stroke="#000" stroke-width="1.1"/>
<line x1="309.50" y1="369.70" x2="312.50" y2="369.70" stroke="#000" stroke-width="1.1"/>
<text x="308.90" y="371.50" font-size="5.0" text-anchor="end" font-weight="bold" font-style="normal" fill="#111" >0</text>
<line x1="309.50" y1="356.60" x2="312.50" y2="356.60" stroke="#000" stroke-width="1.1"/>
<text x="308.90" y="358.40" font-size="5.0" text-anchor="end" font-weight="bold" font-style="normal" fill="#111" >10</text>
<line x1="309.50" y1="343.50" x2="312.50" y2="343.50" stroke="#000" stroke-width="1.1"/>
<text x="308.90" y="345.30" font-size="5.0" text-anchor="end" font-weight="bold" font-style="normal" fill="#111" >20</text>
<line x1="309.50" y1="330.40" x2="312.50" y2="330.40" stroke="#000" stroke-width="1.1"/>
<text x="308.90" y="332.20" font-size="5.0" text-anchor="end" font-weight="bold" font-style="normal" fill="#111" >30</text>
<line x1="309.50" y1="317.40" x2="312.50" y2="317.40" stroke="#000" stroke-width="1.1"/>
<text x="308.90" y="319.20" font-size="5.0" text-anchor="end" font-weight="bold" font-style="normal" fill="#111" >40</text>
<line x1="309.50" y1="304.50" x2="312.50" y2="304.50" stroke="#000" stroke-width="1.1"/>
<text x="308.90" y="306.30" font-size="5.0" text-anchor="end" font-weight="bold" font-style="normal" fill="#111" >50</text>
<line x1="325.90" y1="369.70" x2="325.90" y2="372.70" stroke="#000" stroke-width="1.1"/>
<line x1="350.20" y1="369.70" x2="350.20" y2="372.70" stroke="#000" stroke-width="1.1"/>
<line x1="375.00" y1="369.70" x2="375.00" y2="372.70" stroke="#000" stroke-width="1.1"/>
<line x1="400.00" y1="369.70" x2="400.00" y2="372.70" stroke="#000" stroke-width="1.1"/>
<text x="325.90" y="378.00" font-size="5.8" text-anchor="middle" font-weight="normal" font-style="normal" fill="#111" >0</text>
<text x="350.20" y="378.00" font-size="5.8" text-anchor="middle" font-weight="normal" font-style="normal" fill="#111" >4</text>
<text x="375.00" y="378.00" font-size="5.8" text-anchor="middle" font-weight="normal" font-style="normal" fill="#111" >8</text>
<text x="400.00" y="378.00" font-size="5.8" text-anchor="middle" font-weight="normal" font-style="normal" fill="#111" >12</text>
<text x="316.20" y="378.00" font-size="5.8" text-anchor="end" font-weight="normal" font-style="normal" fill="#111" >HSV-1(h)</text>
<path d="M345.00,328.80 V326.80 H354.80 V328.80" fill="none" stroke="#000" stroke-width="1.05"/>
<text x="350.20" y="327.90" font-size="5.0" text-anchor="middle" font-weight="bold" font-style="normal" fill="#111" stroke="#000" stroke-width="0.2">***</text>
<path d="M369.80,319.40 V317.40 H379.60 V319.40" fill="none" stroke="#000" stroke-width="1.05"/>
<text x="375.00" y="318.20" font-size="5.0" text-anchor="middle" font-weight="bold" font-style="normal" fill="#111" stroke="#000" stroke-width="0.2">***</text>
<path d="M394.80,309.90 V307.90 H404.60 V309.90" fill="none" stroke="#000" stroke-width="1.05"/>
<text x="400.00" y="308.50" font-size="5.0" text-anchor="middle" font-weight="bold" font-style="normal" fill="#111" stroke="#000" stroke-width="0.2">***</text>
<rect x="315.70" y="299.20" width="7.80" height="3.30" fill="#E9979B"/>
<rect x="315.70" y="307.20" width="7.80" height="3.30" fill="#7B80C7"/>
<text x="327.10" y="303.08" font-size="6.19" font-style="italic" fill="#111" textLength="13.43" lengthAdjust="spacingAndGlyphs">Stub1</text>
<text x="340.77" y="301.33" font-size="4.09" font-style="italic" fill="#111" textLength="6.77" lengthAdjust="spacingAndGlyphs">fl/fl</text>
<text x="327.10" y="311.08" font-size="6.19" font-style="italic" fill="#111" textLength="13.43" lengthAdjust="spacingAndGlyphs">Stub1</text>
<text x="340.77" y="309.33" font-size="4.09" font-style="italic" fill="#111" textLength="6.77" lengthAdjust="spacingAndGlyphs">fl/fl</text>
<text x="348.82" y="311.08" font-size="6.19" font-style="italic" fill="#111" textLength="22.78" lengthAdjust="spacingAndGlyphs">Lyz2-Cre</text>
<text transform="translate(299.86,336.80) rotate(-90)" font-size="6.4" text-anchor="middle" font-weight="normal" fill="#111" xml:space="preserve" textLength="52.80" lengthAdjust="spacingAndGlyphs"><tspan font-style="italic">MX1</tspan><tspan font-style="normal"> mRNA  (fold)</tspan></text>
<text transform="translate(291.90,287.60) scale(0.87,1)" font-size="12.5" font-weight="bold" fill="#000">K</text>
<rect x="482.00" y="356.80" width="8.60" height="12.90" fill="#E9979B"/>
<line x1="486.30" y1="355.60" x2="486.30" y2="356.80" stroke="#EAA3A7" stroke-width="0.7"/>
<line x1="484.15" y1="355.60" x2="488.45" y2="355.60" stroke="#EAA3A7" stroke-width="0.7"/>
<rect x="490.60" y="359.90" width="8.60" height="9.80" fill="#7B80C7"/>
<line x1="494.90" y1="359.50" x2="494.90" y2="359.90" stroke="#8F93D0" stroke-width="0.7"/>
<line x1="492.75" y1="359.50" x2="497.05" y2="359.50" stroke="#8F93D0" stroke-width="0.7"/>
<rect x="506.30" y="341.00" width="8.60" height="28.70" fill="#E9979B"/>
<line x1="510.60" y1="338.50" x2="510.60" y2="341.00" stroke="#EAA3A7" stroke-width="0.7"/>
<line x1="508.45" y1="338.50" x2="512.75" y2="338.50" stroke="#EAA3A7" stroke-width="0.7"/>
<rect x="514.90" y="351.70" width="8.60" height="18.00" fill="#7B80C7"/>
<line x1="519.20" y1="349.70" x2="519.20" y2="351.70" stroke="#8F93D0" stroke-width="0.7"/>
<line x1="517.05" y1="349.70" x2="521.35" y2="349.70" stroke="#8F93D0" stroke-width="0.7"/>
<rect x="530.80" y="327.10" width="8.60" height="42.60" fill="#E9979B"/>
<line x1="535.10" y1="323.50" x2="535.10" y2="327.10" stroke="#EAA3A7" stroke-width="0.7"/>
<line x1="532.95" y1="323.50" x2="537.25" y2="323.50" stroke="#EAA3A7" stroke-width="0.7"/>
<rect x="539.40" y="344.90" width="8.60" height="24.80" fill="#7B80C7"/>
<path d="M453.10,305.70 V369.70 H548.00" fill="none" stroke="#000" stroke-width="1.1"/>
<line x1="450.10" y1="369.70" x2="453.10" y2="369.70" stroke="#000" stroke-width="1.1"/>
<text x="449.50" y="371.50" font-size="5.0" text-anchor="end" font-weight="bold" font-style="normal" fill="#111" >0</text>
<line x1="450.10" y1="353.80" x2="453.10" y2="353.80" stroke="#000" stroke-width="1.1"/>
<text x="449.50" y="355.60" font-size="5.0" text-anchor="end" font-weight="bold" font-style="normal" fill="#111" >100</text>
<line x1="450.10" y1="337.70" x2="453.10" y2="337.70" stroke="#000" stroke-width="1.1"/>
<text x="449.50" y="339.50" font-size="5.0" text-anchor="end" font-weight="bold" font-style="normal" fill="#111" >200</text>
<line x1="450.10" y1="321.70" x2="453.10" y2="321.70" stroke="#000" stroke-width="1.1"/>
<text x="449.50" y="323.50" font-size="5.0" text-anchor="end" font-weight="bold" font-style="normal" fill="#111" >300</text>
<line x1="450.10" y1="305.70" x2="453.10" y2="305.70" stroke="#000" stroke-width="1.1"/>
<text x="449.50" y="307.50" font-size="5.0" text-anchor="end" font-weight="bold" font-style="normal" fill="#111" >400</text>
<line x1="466.30" y1="369.70" x2="466.30" y2="372.70" stroke="#000" stroke-width="1.1"/>
<line x1="490.60" y1="369.70" x2="490.60" y2="372.70" stroke="#000" stroke-width="1.1"/>
<line x1="514.90" y1="369.70" x2="514.90" y2="372.70" stroke="#000" stroke-width="1.1"/>
<line x1="539.40" y1="369.70" x2="539.40" y2="372.70" stroke="#000" stroke-width="1.1"/>
<text x="466.30" y="378.00" font-size="5.8" text-anchor="middle" font-weight="normal" font-style="normal" fill="#111" >0</text>
<text x="490.60" y="378.00" font-size="5.8" text-anchor="middle" font-weight="normal" font-style="normal" fill="#111" >4</text>
<text x="514.90" y="378.00" font-size="5.8" text-anchor="middle" font-weight="normal" font-style="normal" fill="#111" >8</text>
<text x="539.40" y="378.00" font-size="5.8" text-anchor="middle" font-weight="normal" font-style="normal" fill="#111" >12</text>
<text x="453.60" y="378.00" font-size="5.8" text-anchor="end" font-weight="normal" font-style="normal" fill="#111" >HSV-1(h)</text>
<path d="M485.50,351.00 V349.00 H495.10 V351.00" fill="none" stroke="#000" stroke-width="1.05"/>
<text x="490.60" y="349.30" font-size="5.0" text-anchor="middle" font-weight="bold" font-style="normal" fill="#111" stroke="#000" stroke-width="0.2">*</text>
<path d="M509.80,335.50 V333.50 H519.40 V335.50" fill="none" stroke="#000" stroke-width="1.05"/>
<text x="514.90" y="334.30" font-size="5.0" text-anchor="middle" font-weight="bold" font-style="normal" fill="#111" stroke="#000" stroke-width="0.2">**</text>
<path d="M534.30,319.30 V317.30 H543.90 V319.30" fill="none" stroke="#000" stroke-width="1.05"/>
<text x="539.40" y="317.90" font-size="5.0" text-anchor="middle" font-weight="bold" font-style="normal" fill="#111" stroke="#000" stroke-width="0.2">***</text>
<rect x="456.00" y="299.20" width="7.30" height="3.20" fill="#E9979B"/>
<rect x="456.00" y="307.70" width="7.30" height="3.20" fill="#7B80C7"/>
<text x="467.70" y="303.01" font-size="6.15" font-style="italic" fill="#111" textLength="13.34" lengthAdjust="spacingAndGlyphs">Stub1</text>
<text x="481.27" y="301.27" font-size="4.06" font-style="italic" fill="#111" textLength="6.73" lengthAdjust="spacingAndGlyphs">fl/fl</text>
<text x="467.70" y="311.51" font-size="6.15" font-style="italic" fill="#111" textLength="13.34" lengthAdjust="spacingAndGlyphs">Stub1</text>
<text x="481.27" y="309.77" font-size="4.06" font-style="italic" fill="#111" textLength="6.73" lengthAdjust="spacingAndGlyphs">fl/fl</text>
<text x="489.28" y="311.51" font-size="6.15" font-style="italic" fill="#111" textLength="22.62" lengthAdjust="spacingAndGlyphs">Lyz2-Cre</text>
<text transform="translate(438.54,337.50) rotate(-90)" font-size="6.3" text-anchor="middle" font-weight="normal" fill="#111" xml:space="preserve" textLength="64.00" lengthAdjust="spacingAndGlyphs"><tspan font-style="normal">HSV-1-gD mRNA (fold)</tspan></text>
<text transform="translate(430.50,287.60) scale(0.87,1)" font-size="12.5" font-weight="bold" fill="#000">L</text>
<rect x="616.30" y="366.00" width="8.40" height="3.90" fill="#E9979B"/>
<line x1="620.50" y1="363.60" x2="620.50" y2="366.00" stroke="#EAA3A7" stroke-width="0.7"/>
<line x1="618.40" y1="363.60" x2="622.60" y2="363.60" stroke="#EAA3A7" stroke-width="0.7"/>
<rect x="624.70" y="357.50" width="8.40" height="12.40" fill="#7B80C7"/>
<line x1="628.90" y1="356.30" x2="628.90" y2="357.50" stroke="#8F93D0" stroke-width="0.7"/>
<line x1="626.80" y1="356.30" x2="631.00" y2="356.30" stroke="#8F93D0" stroke-width="0.7"/>
<rect x="639.90" y="359.00" width="8.40" height="10.90" fill="#E9979B"/>
<line x1="644.10" y1="356.30" x2="644.10" y2="359.00" stroke="#EAA3A7" stroke-width="0.7"/>
<line x1="642.00" y1="356.30" x2="646.20" y2="356.30" stroke="#EAA3A7" stroke-width="0.7"/>
<rect x="648.30" y="350.20" width="8.40" height="19.70" fill="#7B80C7"/>
<line x1="652.50" y1="347.30" x2="652.50" y2="350.20" stroke="#8F93D0" stroke-width="0.7"/>
<line x1="650.40" y1="347.30" x2="654.60" y2="347.30" stroke="#8F93D0" stroke-width="0.7"/>
<rect x="663.00" y="346.80" width="8.40" height="23.10" fill="#E9979B"/>
<rect x="671.40" y="327.60" width="8.40" height="42.30" fill="#7B80C7"/>
<line x1="675.60" y1="319.30" x2="675.60" y2="327.60" stroke="#8F93D0" stroke-width="0.7"/>
<line x1="673.50" y1="319.30" x2="677.70" y2="319.30" stroke="#8F93D0" stroke-width="0.7"/>
<path d="M587.50,304.50 V369.90 H683.50" fill="none" stroke="#000" stroke-width="1.1"/>
<line x1="584.50" y1="369.90" x2="587.50" y2="369.90" stroke="#000" stroke-width="1.1"/>
<text x="583.90" y="371.70" font-size="5.0" text-anchor="end" font-weight="bold" font-style="normal" fill="#111" >0</text>
<line x1="584.50" y1="353.40" x2="587.50" y2="353.40" stroke="#000" stroke-width="1.1"/>
<text x="583.90" y="355.20" font-size="5.0" text-anchor="end" font-weight="bold" font-style="normal" fill="#111" >2</text>
<line x1="584.50" y1="337.20" x2="587.50" y2="337.20" stroke="#000" stroke-width="1.1"/>
<text x="583.90" y="339.00" font-size="5.0" text-anchor="end" font-weight="bold" font-style="normal" fill="#111" >4</text>
<line x1="584.50" y1="320.70" x2="587.50" y2="320.70" stroke="#000" stroke-width="1.1"/>
<text x="583.90" y="322.50" font-size="5.0" text-anchor="end" font-weight="bold" font-style="normal" fill="#111" >6</text>
<line x1="584.50" y1="304.50" x2="587.50" y2="304.50" stroke="#000" stroke-width="1.1"/>
<text x="583.90" y="306.30" font-size="5.0" text-anchor="end" font-weight="bold" font-style="normal" fill="#111" >8</text>
<line x1="600.40" y1="369.90" x2="600.40" y2="372.90" stroke="#000" stroke-width="1.1"/>
<line x1="624.70" y1="369.90" x2="624.70" y2="372.90" stroke="#000" stroke-width="1.1"/>
<line x1="648.30" y1="369.90" x2="648.30" y2="372.90" stroke="#000" stroke-width="1.1"/>
<line x1="671.40" y1="369.90" x2="671.40" y2="372.90" stroke="#000" stroke-width="1.1"/>
<text x="600.40" y="378.00" font-size="5.0" text-anchor="middle" font-weight="bold" font-style="normal" fill="#111" >0</text>
<text x="624.70" y="378.00" font-size="5.0" text-anchor="middle" font-weight="bold" font-style="normal" fill="#111" >4</text>
<text x="648.30" y="378.00" font-size="5.0" text-anchor="middle" font-weight="bold" font-style="normal" fill="#111" >8</text>
<text x="671.40" y="378.00" font-size="5.0" text-anchor="middle" font-weight="bold" font-style="normal" fill="#111" >12</text>
<text x="593.60" y="378.00" font-size="5.3" text-anchor="end" font-weight="normal" font-style="normal" fill="#111" >HSV-1(h)</text>
<path d="M619.70,352.50 V350.50 H629.10 V352.50" fill="none" stroke="#000" stroke-width="1.05"/>
<text x="624.70" y="350.05" font-size="4.8" text-anchor="middle" font-weight="normal" font-style="normal" fill="#111" textLength="4.32" lengthAdjust="spacingAndGlyphs">ns</text>
<path d="M643.30,344.20 V342.20 H652.70 V344.20" fill="none" stroke="#000" stroke-width="1.05"/>
<text x="648.30" y="343.20" font-size="5.0" text-anchor="middle" font-weight="bold" font-style="normal" fill="#111" stroke="#000" stroke-width="0.2">*</text>
<path d="M666.40,317.60 V315.60 H675.80 V317.60" fill="none" stroke="#000" stroke-width="1.05"/>
<text x="671.40" y="316.10" font-size="5.0" text-anchor="middle" font-weight="bold" font-style="normal" fill="#111" stroke="#000" stroke-width="0.2">***</text>
<rect x="595.30" y="298.40" width="8.00" height="3.70" fill="#E9979B"/>
<rect x="595.30" y="305.20" width="8.00" height="3.70" fill="#7B80C7"/>
<text x="605.80" y="302.29" font-size="5.67" font-style="italic" fill="#111" textLength="12.30" lengthAdjust="spacingAndGlyphs">Stub1</text>
<text x="618.32" y="300.69" font-size="3.74" font-style="italic" fill="#111" textLength="6.21" lengthAdjust="spacingAndGlyphs">fl/fl</text>
<text x="605.80" y="309.09" font-size="5.67" font-style="italic" fill="#111" textLength="12.30" lengthAdjust="spacingAndGlyphs">Stub1</text>
<text x="618.32" y="307.49" font-size="3.74" font-style="italic" fill="#111" textLength="6.21" lengthAdjust="spacingAndGlyphs">fl/fl</text>
<text x="625.70" y="309.09" font-size="5.67" font-style="italic" fill="#111" textLength="20.86" lengthAdjust="spacingAndGlyphs">Lyz2-Cre</text>
<text transform="translate(577.61,337.10) rotate(-90)" font-size="5.8" text-anchor="middle" font-weight="normal" fill="#111" xml:space="preserve" textLength="64.80" lengthAdjust="spacingAndGlyphs"><tspan font-style="normal">HSV-1-Log</tspan><tspan font-size="3.94" dy="1.45">10</tspan><tspan font-style="normal" dy="-1.45">(TCID50/mL)</tspan></text>
<text transform="translate(568.80,287.60) scale(0.87,1)" font-size="12.5" font-weight="bold" fill="#000">M</text>
<rect x="73.80" y="474.10" width="9.00" height="7.70" fill="#E9979B"/>
<rect x="82.80" y="473.30" width="9.00" height="8.50" fill="#7B80C7"/>
<rect x="98.70" y="457.00" width="9.00" height="24.80" fill="#E9979B"/>
<line x1="103.20" y1="456.60" x2="103.20" y2="457.00" stroke="#EAA3A7" stroke-width="0.7"/>
<line x1="100.95" y1="456.60" x2="105.45" y2="456.60" stroke="#EAA3A7" stroke-width="0.7"/>
<rect x="107.70" y="454.90" width="9.00" height="26.90" fill="#7B80C7"/>
<line x1="112.20" y1="451.50" x2="112.20" y2="454.90" stroke="#8F93D0" stroke-width="0.7"/>
<line x1="109.95" y1="451.50" x2="114.45" y2="451.50" stroke="#8F93D0" stroke-width="0.7"/>
<rect x="123.70" y="426.50" width="9.00" height="55.30" fill="#E9979B"/>
<line x1="128.20" y1="422.80" x2="128.20" y2="426.50" stroke="#EAA3A7" stroke-width="0.7"/>
<line x1="125.95" y1="422.80" x2="130.45" y2="422.80" stroke="#EAA3A7" stroke-width="0.7"/>
<rect x="132.70" y="426.00" width="9.00" height="55.80" fill="#7B80C7"/>
<line x1="137.20" y1="425.50" x2="137.20" y2="426.00" stroke="#8F93D0" stroke-width="0.7"/>
<line x1="134.95" y1="425.50" x2="139.45" y2="425.50" stroke="#8F93D0" stroke-width="0.7"/>
<path d="M44.20,411.50 V481.80 H145.80" fill="none" stroke="#000" stroke-width="1.1"/>
<line x1="41.20" y1="481.70" x2="44.20" y2="481.70" stroke="#000" stroke-width="1.1"/>
<text x="40.60" y="483.50" font-size="5.0" text-anchor="end" font-weight="bold" font-style="normal" fill="#111" >0</text>
<line x1="41.20" y1="458.30" x2="44.20" y2="458.30" stroke="#000" stroke-width="1.1"/>
<text x="40.60" y="460.10" font-size="5.0" text-anchor="end" font-weight="bold" font-style="normal" fill="#111" >1000</text>
<line x1="41.20" y1="435.00" x2="44.20" y2="435.00" stroke="#000" stroke-width="1.1"/>
<text x="40.60" y="436.80" font-size="5.0" text-anchor="end" font-weight="bold" font-style="normal" fill="#111" >2000</text>
<line x1="41.20" y1="411.50" x2="44.20" y2="411.50" stroke="#000" stroke-width="1.1"/>
<text x="40.60" y="413.30" font-size="5.0" text-anchor="end" font-weight="bold" font-style="normal" fill="#111" >3000</text>
<line x1="57.80" y1="481.80" x2="57.80" y2="484.80" stroke="#000" stroke-width="1.1"/>
<line x1="82.80" y1="481.80" x2="82.80" y2="484.80" stroke="#000" stroke-width="1.1"/>
<line x1="107.70" y1="481.80" x2="107.70" y2="484.80" stroke="#000" stroke-width="1.1"/>
<line x1="132.70" y1="481.80" x2="132.70" y2="484.80" stroke="#000" stroke-width="1.1"/>
<text x="57.80" y="491.40" font-size="5.8" text-anchor="middle" font-weight="normal" font-style="normal" fill="#111" >0</text>
<text x="82.80" y="491.40" font-size="5.8" text-anchor="middle" font-weight="normal" font-style="normal" fill="#111" >500</text>
<text x="107.70" y="491.40" font-size="5.8" text-anchor="middle" font-weight="normal" font-style="normal" fill="#111" >1000</text>
<text x="132.70" y="491.40" font-size="5.8" text-anchor="middle" font-weight="normal" font-style="normal" fill="#111" >2000</text>
<text x="44.90" y="491.40" font-size="5.8" text-anchor="end" font-weight="normal" font-style="normal" fill="#111" >IFN-α(IU)</text>
<path d="M77.50,471.50 V469.50 H87.50 V471.50" fill="none" stroke="#000" stroke-width="1.05"/>
<text x="82.80" y="468.22" font-size="7.4" text-anchor="middle" font-weight="normal" font-style="normal" fill="#111" textLength="6.66" lengthAdjust="spacingAndGlyphs">ns</text>
<path d="M102.40,450.60 V448.60 H112.40 V450.60" fill="none" stroke="#000" stroke-width="1.05"/>
<text x="107.70" y="446.82" font-size="7.4" text-anchor="middle" font-weight="normal" font-style="normal" fill="#111" textLength="6.66" lengthAdjust="spacingAndGlyphs">ns</text>
<path d="M127.40,421.60 V419.60 H137.40 V421.60" fill="none" stroke="#000" stroke-width="1.05"/>
<text x="132.70" y="417.82" font-size="7.4" text-anchor="middle" font-weight="normal" font-style="normal" fill="#111" textLength="6.66" lengthAdjust="spacingAndGlyphs">ns</text>
<rect x="47.30" y="405.70" width="7.90" height="4.00" fill="#E9979B"/>
<rect x="47.30" y="413.60" width="7.90" height="4.00" fill="#7B80C7"/>
<text x="59.10" y="410.00" font-size="6.40" font-style="italic" fill="#111" textLength="13.89" lengthAdjust="spacingAndGlyphs">Stub1</text>
<text x="73.23" y="408.19" font-size="4.23" font-style="italic" fill="#111" textLength="7.01" lengthAdjust="spacingAndGlyphs">fl/fl</text>
<text x="59.10" y="417.90" font-size="6.40" font-style="italic" fill="#111" textLength="13.89" lengthAdjust="spacingAndGlyphs">Stub1</text>
<text x="73.23" y="416.09" font-size="4.23" font-style="italic" fill="#111" textLength="7.01" lengthAdjust="spacingAndGlyphs">fl/fl</text>
<text x="81.57" y="417.90" font-size="6.40" font-style="italic" fill="#111" textLength="23.56" lengthAdjust="spacingAndGlyphs">Lyz2-Cre</text>
<text transform="translate(25.84,442.30) rotate(-90)" font-size="6.7" text-anchor="middle" font-weight="normal" fill="#111" xml:space="preserve" textLength="56.80" lengthAdjust="spacingAndGlyphs"><tspan font-style="italic">Isg56</tspan><tspan font-style="normal"> mRNA  (fold)</tspan></text>
<text transform="translate(23.10,395.60) scale(0.87,1)" font-size="12.5" font-weight="bold" fill="#000">N</text>
<rect x="193.00" y="480.60" width="9.00" height="0.50" fill="#E9979B"/>
<rect x="202.00" y="480.60" width="9.00" height="0.50" fill="#7B80C7"/>
<rect x="218.00" y="477.20" width="9.00" height="3.90" fill="#E9979B"/>
<rect x="227.00" y="477.20" width="9.00" height="3.90" fill="#7B80C7"/>
<line x1="231.50" y1="476.80" x2="231.50" y2="477.20" stroke="#8F93D0" stroke-width="0.7"/>
<line x1="229.25" y1="476.80" x2="233.75" y2="476.80" stroke="#8F93D0" stroke-width="0.7"/>
<rect x="243.00" y="466.70" width="9.00" height="14.40" fill="#E9979B"/>
<line x1="247.50" y1="466.30" x2="247.50" y2="466.70" stroke="#EAA3A7" stroke-width="0.7"/>
<line x1="245.25" y1="466.30" x2="249.75" y2="466.30" stroke="#EAA3A7" stroke-width="0.7"/>
<rect x="252.00" y="465.40" width="9.00" height="15.70" fill="#7B80C7"/>
<line x1="256.50" y1="463.60" x2="256.50" y2="465.40" stroke="#8F93D0" stroke-width="0.7"/>
<line x1="254.25" y1="463.60" x2="258.75" y2="463.60" stroke="#8F93D0" stroke-width="0.7"/>
<rect x="267.40" y="428.60" width="9.00" height="52.50" fill="#E9979B"/>
<line x1="271.90" y1="422.00" x2="271.90" y2="428.60" stroke="#EAA3A7" stroke-width="0.7"/>
<line x1="269.65" y1="422.00" x2="274.15" y2="422.00" stroke="#EAA3A7" stroke-width="0.7"/>
<rect x="276.40" y="428.60" width="9.00" height="52.50" fill="#7B80C7"/>
<line x1="280.90" y1="422.00" x2="280.90" y2="428.60" stroke="#8F93D0" stroke-width="0.7"/>
<line x1="278.65" y1="422.00" x2="283.15" y2="422.00" stroke="#8F93D0" stroke-width="0.7"/>
<path d="M188.50,411.00 V481.10 H290.00" fill="none" stroke="#000" stroke-width="1.1"/>
<line x1="185.50" y1="481.20" x2="188.50" y2="481.20" stroke="#000" stroke-width="1.1"/>
<text x="184.90" y="483.00" font-size="5.0" text-anchor="end" font-weight="bold" font-style="normal" fill="#111" >0</text>
<line x1="185.50" y1="457.80" x2="188.50" y2="457.80" stroke="#000" stroke-width="1.1"/>
<text x="184.90" y="459.60" font-size="5.0" text-anchor="end" font-weight="bold" font-style="normal" fill="#111" >200</text>
<line x1="185.50" y1="434.40" x2="188.50" y2="434.40" stroke="#000" stroke-width="1.1"/>
<text x="184.90" y="436.20" font-size="5.0" text-anchor="end" font-weight="bold" font-style="normal" fill="#111" >400</text>
<line x1="185.50" y1="411.00" x2="188.50" y2="411.00" stroke="#000" stroke-width="1.1"/>
<text x="184.90" y="412.80" font-size="5.0" text-anchor="end" font-weight="bold" font-style="normal" fill="#111" >600</text>
<line x1="202.00" y1="481.10" x2="202.00" y2="484.10" stroke="#000" stroke-width="1.1"/>
<line x1="227.00" y1="481.10" x2="227.00" y2="484.10" stroke="#000" stroke-width="1.1"/>
<line x1="252.00" y1="481.10" x2="252.00" y2="484.10" stroke="#000" stroke-width="1.1"/>
<line x1="276.40" y1="481.10" x2="276.40" y2="484.10" stroke="#000" stroke-width="1.1"/>
<text x="202.00" y="490.70" font-size="5.8" text-anchor="middle" font-weight="normal" font-style="normal" fill="#111" >0</text>
<text x="227.00" y="490.70" font-size="5.8" text-anchor="middle" font-weight="normal" font-style="normal" fill="#111" >500</text>
<text x="252.00" y="490.70" font-size="5.8" text-anchor="middle" font-weight="normal" font-style="normal" fill="#111" >1000</text>
<text x="276.40" y="490.70" font-size="5.8" text-anchor="middle" font-weight="normal" font-style="normal" fill="#111" >2000</text>
<text x="189.80" y="490.70" font-size="5.8" text-anchor="end" font-weight="normal" font-style="normal" fill="#111" >IFN-α(IU)</text>
<path d="M221.70,475.90 V473.90 H231.70 V475.90" fill="none" stroke="#000" stroke-width="1.05"/>
<text x="227.00" y="472.82" font-size="7.4" text-anchor="middle" font-weight="normal" font-style="normal" fill="#111" textLength="6.66" lengthAdjust="spacingAndGlyphs">ns</text>
<path d="M246.70,460.60 V458.60 H256.70 V460.60" fill="none" stroke="#000" stroke-width="1.05"/>
<text x="252.00" y="456.62" font-size="7.4" text-anchor="middle" font-weight="normal" font-style="normal" fill="#111" textLength="6.66" lengthAdjust="spacingAndGlyphs">ns</text>
<path d="M271.10,420.50 V418.50 H281.10 V420.50" fill="none" stroke="#000" stroke-width="1.05"/>
<text x="276.40" y="416.32" font-size="7.4" text-anchor="middle" font-weight="normal" font-style="normal" fill="#111" textLength="6.66" lengthAdjust="spacingAndGlyphs">ns</text>
<rect x="191.00" y="405.70" width="8.40" height="3.90" fill="#E9979B"/>
<rect x="191.00" y="415.50" width="8.40" height="3.90" fill="#7B80C7"/>
<text x="202.80" y="409.95" font-size="6.40" font-style="italic" fill="#111" textLength="13.89" lengthAdjust="spacingAndGlyphs">Stub1</text>
<text x="216.93" y="408.14" font-size="4.23" font-style="italic" fill="#111" textLength="7.01" lengthAdjust="spacingAndGlyphs">fl/fl</text>
<text x="202.80" y="419.75" font-size="6.40" font-style="italic" fill="#111" textLength="13.89" lengthAdjust="spacingAndGlyphs">Stub1</text>
<text x="216.93" y="417.94" font-size="4.23" font-style="italic" fill="#111" textLength="7.01" lengthAdjust="spacingAndGlyphs">fl/fl</text>
<text x="225.27" y="419.75" font-size="6.40" font-style="italic" fill="#111" textLength="23.56" lengthAdjust="spacingAndGlyphs">Lyz2-Cre</text>
<text transform="translate(172.24,445.10) rotate(-90)" font-size="6.7" text-anchor="middle" font-weight="normal" fill="#111" xml:space="preserve" textLength="52.70" lengthAdjust="spacingAndGlyphs"><tspan font-style="italic">Mx1</tspan><tspan font-style="normal"> mRNA  (fold)</tspan></text>
<text transform="translate(161.30,395.60) scale(0.87,1)" font-size="12.5" font-weight="bold" fill="#000">O</text>
<rect x="348.30" y="480.60" width="9.00" height="1.10" fill="#E9979B"/>
<rect x="373.40" y="469.30" width="9.00" height="12.40" fill="#E9979B"/>
<line x1="377.90" y1="467.60" x2="377.90" y2="469.30" stroke="#EAA3A7" stroke-width="0.7"/>
<line x1="375.65" y1="467.60" x2="380.15" y2="467.60" stroke="#EAA3A7" stroke-width="0.7"/>
<rect x="382.40" y="468.80" width="9.00" height="12.90" fill="#7B80C7"/>
<line x1="386.90" y1="467.50" x2="386.90" y2="468.80" stroke="#8F93D0" stroke-width="0.7"/>
<line x1="384.65" y1="467.50" x2="389.15" y2="467.50" stroke="#8F93D0" stroke-width="0.7"/>
<rect x="397.80" y="455.40" width="9.00" height="26.30" fill="#E9979B"/>
<line x1="402.30" y1="454.60" x2="402.30" y2="455.40" stroke="#EAA3A7" stroke-width="0.7"/>
<line x1="400.05" y1="454.60" x2="404.55" y2="454.60" stroke="#EAA3A7" stroke-width="0.7"/>
<rect x="406.80" y="456.20" width="9.00" height="25.50" fill="#7B80C7"/>
<line x1="411.30" y1="455.20" x2="411.30" y2="456.20" stroke="#8F93D0" stroke-width="0.7"/>
<line x1="409.05" y1="455.20" x2="413.55" y2="455.20" stroke="#8F93D0" stroke-width="0.7"/>
<rect x="421.60" y="428.10" width="9.00" height="53.60" fill="#E9979B"/>
<line x1="426.10" y1="427.60" x2="426.10" y2="428.10" stroke="#EAA3A7" stroke-width="0.7"/>
<line x1="423.85" y1="427.60" x2="428.35" y2="427.60" stroke="#EAA3A7" stroke-width="0.7"/>
<rect x="430.60" y="430.70" width="9.00" height="51.00" fill="#7B80C7"/>
<line x1="435.10" y1="423.40" x2="435.10" y2="430.70" stroke="#8F93D0" stroke-width="0.7"/>
<line x1="432.85" y1="423.40" x2="437.35" y2="423.40" stroke="#8F93D0" stroke-width="0.7"/>
<path d="M343.30,412.10 V481.70 H444.80" fill="none" stroke="#000" stroke-width="1.1"/>
<line x1="340.30" y1="481.10" x2="343.30" y2="481.10" stroke="#000" stroke-width="1.1"/>
<text x="339.70" y="482.90" font-size="5.0" text-anchor="end" font-weight="bold" font-style="normal" fill="#111" >0</text>
<line x1="340.30" y1="458.30" x2="343.30" y2="458.30" stroke="#000" stroke-width="1.1"/>
<text x="339.70" y="460.10" font-size="5.0" text-anchor="end" font-weight="bold" font-style="normal" fill="#111" >200</text>
<line x1="340.30" y1="435.20" x2="343.30" y2="435.20" stroke="#000" stroke-width="1.1"/>
<text x="339.70" y="437.00" font-size="5.0" text-anchor="end" font-weight="bold" font-style="normal" fill="#111" >400</text>
<line x1="340.30" y1="412.10" x2="343.30" y2="412.10" stroke="#000" stroke-width="1.1"/>
<text x="339.70" y="413.90" font-size="5.0" text-anchor="end" font-weight="bold" font-style="normal" fill="#111" >600</text>
<line x1="357.30" y1="481.70" x2="357.30" y2="484.70" stroke="#000" stroke-width="1.1"/>
<line x1="382.40" y1="481.70" x2="382.40" y2="484.70" stroke="#000" stroke-width="1.1"/>
<line x1="406.80" y1="481.70" x2="406.80" y2="484.70" stroke="#000" stroke-width="1.1"/>
<line x1="430.60" y1="481.70" x2="430.60" y2="484.70" stroke="#000" stroke-width="1.1"/>
<text x="357.30" y="491.30" font-size="5.8" text-anchor="middle" font-weight="normal" font-style="normal" fill="#111" >0</text>
<text x="382.40" y="491.30" font-size="5.8" text-anchor="middle" font-weight="normal" font-style="normal" fill="#111" >500</text>
<text x="406.80" y="491.30" font-size="5.8" text-anchor="middle" font-weight="normal" font-style="normal" fill="#111" >1000</text>
<text x="430.60" y="491.30" font-size="5.8" text-anchor="middle" font-weight="normal" font-style="normal" fill="#111" >2000</text>
<text x="343.90" y="491.30" font-size="5.8" text-anchor="end" font-weight="normal" font-style="normal" fill="#111" >IFN-α(IU)</text>
<path d="M377.10,466.10 V464.10 H387.10 V466.10" fill="none" stroke="#000" stroke-width="1.05"/>
<text x="382.40" y="462.32" font-size="7.4" text-anchor="middle" font-weight="normal" font-style="normal" fill="#111" textLength="6.66" lengthAdjust="spacingAndGlyphs">ns</text>
<path d="M401.50,451.90 V449.90 H411.50 V451.90" fill="none" stroke="#000" stroke-width="1.05"/>
<text x="406.80" y="448.12" font-size="7.4" text-anchor="middle" font-weight="normal" font-style="normal" fill="#111" textLength="6.66" lengthAdjust="spacingAndGlyphs">ns</text>
<path d="M425.30,420.50 V418.50 H435.30 V420.50" fill="none" stroke="#000" stroke-width="1.05"/>
<text x="430.60" y="416.62" font-size="7.4" text-anchor="middle" font-weight="normal" font-style="normal" fill="#111" textLength="6.66" lengthAdjust="spacingAndGlyphs">ns</text>
<rect x="346.10" y="405.90" width="7.90" height="3.80" fill="#E9979B"/>
<rect x="346.10" y="415.20" width="7.90" height="3.80" fill="#7B80C7"/>
<text x="358.10" y="410.09" font-size="6.36" font-style="italic" fill="#111" textLength="13.80" lengthAdjust="spacingAndGlyphs">Stub1</text>
<text x="372.14" y="408.29" font-size="4.20" font-style="italic" fill="#111" textLength="6.96" lengthAdjust="spacingAndGlyphs">fl/fl</text>
<text x="358.10" y="419.39" font-size="6.36" font-style="italic" fill="#111" textLength="13.80" lengthAdjust="spacingAndGlyphs">Stub1</text>
<text x="372.14" y="417.59" font-size="4.20" font-style="italic" fill="#111" textLength="6.96" lengthAdjust="spacingAndGlyphs">fl/fl</text>
<text x="380.42" y="419.39" font-size="6.36" font-style="italic" fill="#111" textLength="23.40" lengthAdjust="spacingAndGlyphs">Lyz2-Cre</text>
<text transform="translate(327.27,446.50) rotate(-90)" font-size="6.8" text-anchor="middle" font-weight="normal" fill="#111" xml:space="preserve" textLength="55.00" lengthAdjust="spacingAndGlyphs"><tspan font-style="italic">Isg56</tspan><tspan font-style="normal"> mRNA (fold)</tspan></text>
<text transform="translate(313.80,395.60) scale(0.87,1)" font-size="12.5" font-weight="bold" fill="#000">P</text>
<rect x="498.30" y="480.00" width="9.00" height="0.20" fill="#E9979B"/>
<rect x="523.00" y="474.00" width="9.00" height="6.20" fill="#E9979B"/>
<line x1="527.50" y1="472.50" x2="527.50" y2="474.00" stroke="#EAA3A7" stroke-width="0.7"/>
<line x1="525.25" y1="472.50" x2="529.75" y2="472.50" stroke="#EAA3A7" stroke-width="0.7"/>
<rect x="532.00" y="474.60" width="9.00" height="5.60" fill="#7B80C7"/>
<line x1="536.50" y1="474.20" x2="536.50" y2="474.60" stroke="#8F93D0" stroke-width="0.7"/>
<line x1="534.25" y1="474.20" x2="538.75" y2="474.20" stroke="#8F93D0" stroke-width="0.7"/>
<rect x="547.40" y="467.20" width="9.00" height="13.00" fill="#E9979B"/>
<line x1="551.90" y1="465.10" x2="551.90" y2="467.20" stroke="#EAA3A7" stroke-width="0.7"/>
<line x1="549.65" y1="465.10" x2="554.15" y2="465.10" stroke="#EAA3A7" stroke-width="0.7"/>
<rect x="556.40" y="466.20" width="9.00" height="14.00" fill="#7B80C7"/>
<line x1="560.90" y1="464.10" x2="560.90" y2="466.20" stroke="#8F93D0" stroke-width="0.7"/>
<line x1="558.65" y1="464.10" x2="563.15" y2="464.10" stroke="#8F93D0" stroke-width="0.7"/>
<rect x="572.40" y="429.60" width="9.00" height="50.60" fill="#E9979B"/>
<line x1="576.90" y1="423.90" x2="576.90" y2="429.60" stroke="#EAA3A7" stroke-width="0.7"/>
<line x1="574.65" y1="423.90" x2="579.15" y2="423.90" stroke="#EAA3A7" stroke-width="0.7"/>
<rect x="581.40" y="427.30" width="9.00" height="52.90" fill="#7B80C7"/>
<line x1="585.90" y1="421.50" x2="585.90" y2="427.30" stroke="#8F93D0" stroke-width="0.7"/>
<line x1="583.65" y1="421.50" x2="588.15" y2="421.50" stroke="#8F93D0" stroke-width="0.7"/>
<path d="M493.30,410.90 V480.20 H593.20" fill="none" stroke="#000" stroke-width="1.1"/>
<line x1="490.30" y1="480.40" x2="493.30" y2="480.40" stroke="#000" stroke-width="1.1"/>
<text x="489.70" y="482.20" font-size="5.0" text-anchor="end" font-weight="bold" font-style="normal" fill="#111" >0</text>
<line x1="490.30" y1="466.60" x2="493.30" y2="466.60" stroke="#000" stroke-width="1.1"/>
<text x="489.70" y="468.40" font-size="5.0" text-anchor="end" font-weight="bold" font-style="normal" fill="#111" >50</text>
<line x1="490.30" y1="452.70" x2="493.30" y2="452.70" stroke="#000" stroke-width="1.1"/>
<text x="489.70" y="454.50" font-size="5.0" text-anchor="end" font-weight="bold" font-style="normal" fill="#111" >100</text>
<line x1="490.30" y1="438.80" x2="493.30" y2="438.80" stroke="#000" stroke-width="1.1"/>
<text x="489.70" y="440.60" font-size="5.0" text-anchor="end" font-weight="bold" font-style="normal" fill="#111" >150</text>
<line x1="490.30" y1="424.80" x2="493.30" y2="424.80" stroke="#000" stroke-width="1.1"/>
<text x="489.70" y="426.60" font-size="5.0" text-anchor="end" font-weight="bold" font-style="normal" fill="#111" >200</text>
<line x1="490.30" y1="410.90" x2="493.30" y2="410.90" stroke="#000" stroke-width="1.1"/>
<text x="489.70" y="412.70" font-size="5.0" text-anchor="end" font-weight="bold" font-style="normal" fill="#111" >250</text>
<line x1="507.30" y1="480.20" x2="507.30" y2="483.20" stroke="#000" stroke-width="1.1"/>
<line x1="532.00" y1="480.20" x2="532.00" y2="483.20" stroke="#000" stroke-width="1.1"/>
<line x1="556.40" y1="480.20" x2="556.40" y2="483.20" stroke="#000" stroke-width="1.1"/>
<line x1="581.40" y1="480.20" x2="581.40" y2="483.20" stroke="#000" stroke-width="1.1"/>
<text x="507.30" y="489.50" font-size="5.8" text-anchor="middle" font-weight="normal" font-style="normal" fill="#111" >0</text>
<text x="532.00" y="489.50" font-size="5.8" text-anchor="middle" font-weight="normal" font-style="normal" fill="#111" >500</text>
<text x="556.40" y="489.50" font-size="5.8" text-anchor="middle" font-weight="normal" font-style="normal" fill="#111" >1000</text>
<text x="581.40" y="489.50" font-size="5.8" text-anchor="middle" font-weight="normal" font-style="normal" fill="#111" >2000</text>
<text x="493.70" y="489.50" font-size="5.8" text-anchor="end" font-weight="normal" font-style="normal" fill="#111" >IFN-α(IU)</text>
<path d="M526.70,469.90 V467.90 H536.70 V469.90" fill="none" stroke="#000" stroke-width="1.05"/>
<text x="532.00" y="466.02" font-size="7.4" text-anchor="middle" font-weight="normal" font-style="normal" fill="#111" textLength="6.66" lengthAdjust="spacingAndGlyphs">ns</text>
<path d="M551.10,461.60 V459.60 H561.10 V461.60" fill="none" stroke="#000" stroke-width="1.05"/>
<text x="556.40" y="457.82" font-size="7.4" text-anchor="middle" font-weight="normal" font-style="normal" fill="#111" textLength="6.66" lengthAdjust="spacingAndGlyphs">ns</text>
<path d="M576.10,420.20 V418.20 H586.10 V420.20" fill="none" stroke="#000" stroke-width="1.05"/>
<text x="581.40" y="416.22" font-size="7.4" text-anchor="middle" font-weight="normal" font-style="normal" fill="#111" textLength="6.66" lengthAdjust="spacingAndGlyphs">ns</text>
<rect x="496.80" y="403.60" width="7.60" height="4.20" fill="#E9979B"/>
<rect x="496.80" y="412.00" width="7.60" height="4.20" fill="#7B80C7"/>
<text x="508.30" y="407.98" font-size="6.33" font-style="italic" fill="#111" textLength="13.73" lengthAdjust="spacingAndGlyphs">Stub1</text>
<text x="522.27" y="406.19" font-size="4.18" font-style="italic" fill="#111" textLength="6.93" lengthAdjust="spacingAndGlyphs">fl/fl</text>
<text x="508.30" y="416.38" font-size="6.33" font-style="italic" fill="#111" textLength="13.73" lengthAdjust="spacingAndGlyphs">Stub1</text>
<text x="522.27" y="414.59" font-size="4.18" font-style="italic" fill="#111" textLength="6.93" lengthAdjust="spacingAndGlyphs">fl/fl</text>
<text x="530.51" y="416.38" font-size="6.33" font-style="italic" fill="#111" textLength="23.28" lengthAdjust="spacingAndGlyphs">Lyz2-Cre</text>
<text transform="translate(477.37,445.70) rotate(-90)" font-size="6.8" text-anchor="middle" font-weight="normal" fill="#111" xml:space="preserve" textLength="51.80" lengthAdjust="spacingAndGlyphs"><tspan font-style="italic">Mx1</tspan><tspan font-style="normal"> mRNA (fold)</tspan></text>
<text transform="translate(452.10,395.60) scale(0.87,1)" font-size="12.5" font-weight="bold" fill="#000">Q</text>
<text transform="translate(8.14,222.30) rotate(-90)" font-size="8.6" text-anchor="middle" font-weight="bold" fill="#000" textLength="25.60" lengthAdjust="spacingAndGlyphs">PCMs</text>
<text transform="translate(10.44,336.30) rotate(-90)" font-size="8.6" text-anchor="middle" font-weight="bold" fill="#000" textLength="25.60" lengthAdjust="spacingAndGlyphs">PCMs</text>
<text transform="translate(11.64,446.30) rotate(-90)" font-size="8.6" text-anchor="middle" font-weight="bold" fill="#000" textLength="34.80" lengthAdjust="spacingAndGlyphs">BMDMs</text>
<text transform="translate(310.04,452.00) rotate(-90)" font-size="8.6" text-anchor="middle" font-weight="bold" fill="#000" textLength="25.00" lengthAdjust="spacingAndGlyphs">PCMs</text>
</svg>
</body></html>
